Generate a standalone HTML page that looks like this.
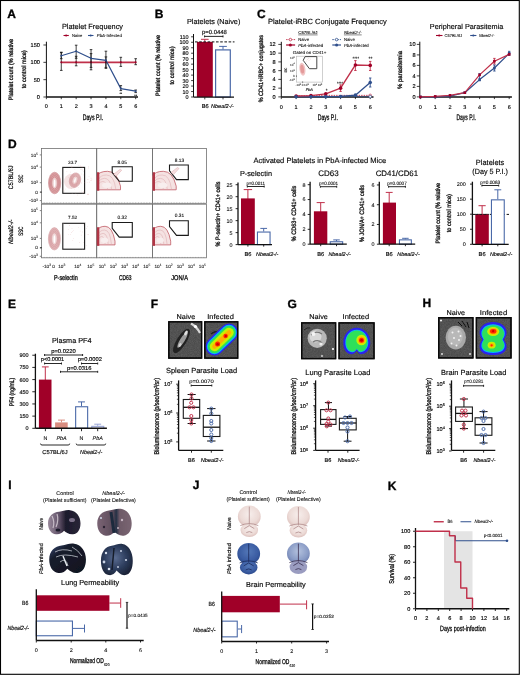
<!DOCTYPE html>
<html><head><meta charset="utf-8"><style>
html,body{margin:0;padding:0;background:#fff;}
body{width:520px;height:675px;overflow:hidden;position:relative;}
svg{position:absolute;left:0;top:0;display:block;opacity:0.999;filter:blur(0.35px);}
text{font-family:"Liberation Sans", sans-serif;text-rendering:geometricPrecision;}
</style></head><body>
<svg width="520" height="675" viewBox="0 0 520 675">
<rect x="0" y="0" width="520" height="675" fill="#fff"/>
<text x="7.30" y="17.80" font-size="12" font-weight="bold" stroke="#111" stroke-width="0.35">A</text>
<text x="61.90" y="28.50" font-size="7.4" stroke="#111" stroke-width="0.15" textLength="61.10" lengthAdjust="spacingAndGlyphs">Platelet Frequency</text>
<line x1="63.50" y1="35.50" x2="68.80" y2="35.50" stroke="#a00028" stroke-width="1.1"/>
<circle cx="66.10" cy="35.50" r="1.0" fill="#a00028"/>
<text x="71.90" y="37.00" font-size="4.3" stroke="#111" stroke-width="0.08" textLength="10.50" lengthAdjust="spacingAndGlyphs">Naive</text>
<line x1="88.00" y1="35.50" x2="93.50" y2="35.50" stroke="#2f4f8c" stroke-width="1.1"/>
<circle cx="90.70" cy="35.50" r="1.0" fill="#2f4f8c"/>
<text x="96.80" y="37.00" font-size="4.3" stroke="#111" stroke-width="0.08" textLength="25.10" lengthAdjust="spacingAndGlyphs"><tspan font-style="italic">PbA</tspan>-Infected</text>
<line x1="46.40" y1="41.70" x2="46.40" y2="97.00" stroke="#111" stroke-width="1"/>
<line x1="43.40" y1="44.99" x2="46.40" y2="44.99" stroke="#111" stroke-width="0.8"/>
<text x="39.90" y="47.00" font-size="5.6" text-anchor="end" stroke="#111" stroke-width="0.15">150</text>
<line x1="43.40" y1="62.33" x2="46.40" y2="62.33" stroke="#111" stroke-width="0.8"/>
<text x="39.90" y="64.33" font-size="5.6" text-anchor="end" stroke="#111" stroke-width="0.15">100</text>
<line x1="43.40" y1="79.66" x2="46.40" y2="79.66" stroke="#111" stroke-width="0.8"/>
<text x="39.90" y="81.67" font-size="5.6" text-anchor="end" stroke="#111" stroke-width="0.15">50</text>
<line x1="43.40" y1="97.00" x2="46.40" y2="97.00" stroke="#111" stroke-width="0.8"/>
<text x="39.90" y="99.00" font-size="5.6" text-anchor="end" stroke="#111" stroke-width="0.15">0</text>
<line x1="46.40" y1="97.00" x2="138.00" y2="97.00" stroke="#111" stroke-width="1.5"/>
<line x1="46.40" y1="97.00" x2="46.40" y2="99.20" stroke="#111" stroke-width="0.8"/>
<text x="46.40" y="108.30" font-size="5.5" text-anchor="middle" stroke="#111" stroke-width="0.15">0</text>
<line x1="61.28" y1="97.00" x2="61.28" y2="99.20" stroke="#111" stroke-width="0.8"/>
<text x="61.28" y="108.30" font-size="5.5" text-anchor="middle" stroke="#111" stroke-width="0.15">1</text>
<line x1="76.16" y1="97.00" x2="76.16" y2="99.20" stroke="#111" stroke-width="0.8"/>
<text x="76.16" y="108.30" font-size="5.5" text-anchor="middle" stroke="#111" stroke-width="0.15">2</text>
<line x1="91.04" y1="97.00" x2="91.04" y2="99.20" stroke="#111" stroke-width="0.8"/>
<text x="91.04" y="108.30" font-size="5.5" text-anchor="middle" stroke="#111" stroke-width="0.15">3</text>
<line x1="105.92" y1="97.00" x2="105.92" y2="99.20" stroke="#111" stroke-width="0.8"/>
<text x="105.92" y="108.30" font-size="5.5" text-anchor="middle" stroke="#111" stroke-width="0.15">4</text>
<line x1="120.80" y1="97.00" x2="120.80" y2="99.20" stroke="#111" stroke-width="0.8"/>
<text x="120.80" y="108.30" font-size="5.5" text-anchor="middle" stroke="#111" stroke-width="0.15">5</text>
<line x1="135.68" y1="97.00" x2="135.68" y2="99.20" stroke="#111" stroke-width="0.8"/>
<text x="135.68" y="108.30" font-size="5.5" text-anchor="middle" stroke="#111" stroke-width="0.15">6</text>
<text x="92.90" y="119.60" font-size="8.0" text-anchor="middle" stroke="#111" stroke-width="0.3" textLength="20.40" lengthAdjust="spacingAndGlyphs">Days P.I.</text>
<text x="0" y="0" font-size="6.3" text-anchor="middle" stroke="#111" stroke-width="0.3" textLength="61.30" lengthAdjust="spacingAndGlyphs" transform="translate(13.16 69.60) rotate(-90)">Platelet count (% relative</text>
<text x="0" y="0" font-size="6.3" text-anchor="middle" stroke="#111" stroke-width="0.3" textLength="38.00" lengthAdjust="spacingAndGlyphs" transform="translate(25.56 69.30) rotate(-90)">to control mice)</text>
<line x1="61.28" y1="62.33" x2="135.68" y2="62.33" stroke="#c0304a" stroke-width="1.6"/>
<line x1="61.28" y1="52.20" x2="61.28" y2="70.40" stroke="#111" stroke-width="0.8"/>
<line x1="59.98" y1="52.20" x2="62.58" y2="52.20" stroke="#111" stroke-width="0.8"/>
<line x1="59.98" y1="70.40" x2="62.58" y2="70.40" stroke="#111" stroke-width="0.8"/>
<circle cx="61.28" cy="62.33" r="1.0" fill="#a00028"/>
<line x1="76.16" y1="56.30" x2="76.16" y2="65.80" stroke="#111" stroke-width="0.8"/>
<line x1="74.86" y1="56.30" x2="77.46" y2="56.30" stroke="#111" stroke-width="0.8"/>
<line x1="74.86" y1="65.80" x2="77.46" y2="65.80" stroke="#111" stroke-width="0.8"/>
<circle cx="76.16" cy="62.33" r="1.0" fill="#a00028"/>
<line x1="91.04" y1="53.60" x2="91.04" y2="69.80" stroke="#111" stroke-width="0.8"/>
<line x1="89.74" y1="53.60" x2="92.34" y2="53.60" stroke="#111" stroke-width="0.8"/>
<line x1="89.74" y1="69.80" x2="92.34" y2="69.80" stroke="#111" stroke-width="0.8"/>
<circle cx="91.04" cy="62.33" r="1.0" fill="#a00028"/>
<line x1="105.92" y1="56.90" x2="105.92" y2="67.40" stroke="#111" stroke-width="0.8"/>
<line x1="104.62" y1="56.90" x2="107.22" y2="56.90" stroke="#111" stroke-width="0.8"/>
<line x1="104.62" y1="67.40" x2="107.22" y2="67.40" stroke="#111" stroke-width="0.8"/>
<circle cx="105.92" cy="62.33" r="1.0" fill="#a00028"/>
<line x1="120.80" y1="57.30" x2="120.80" y2="66.40" stroke="#111" stroke-width="0.8"/>
<line x1="119.50" y1="57.30" x2="122.10" y2="57.30" stroke="#111" stroke-width="0.8"/>
<line x1="119.50" y1="66.40" x2="122.10" y2="66.40" stroke="#111" stroke-width="0.8"/>
<circle cx="120.80" cy="62.33" r="1.0" fill="#a00028"/>
<line x1="135.68" y1="58.70" x2="135.68" y2="64.70" stroke="#111" stroke-width="0.8"/>
<line x1="134.38" y1="58.70" x2="136.98" y2="58.70" stroke="#111" stroke-width="0.8"/>
<line x1="134.38" y1="64.70" x2="136.98" y2="64.70" stroke="#111" stroke-width="0.8"/>
<circle cx="135.68" cy="62.33" r="1.0" fill="#a00028"/>
<polyline points="61.28,55.70 76.16,51.20 91.04,58.30 105.92,60.30 120.80,88.60 135.68,91.20" stroke="#2f4f8c" stroke-width="1.2" fill="none" stroke-linejoin="round"/>
<line x1="61.28" y1="52.60" x2="61.28" y2="58.70" stroke="#111" stroke-width="0.8"/>
<line x1="59.98" y1="52.60" x2="62.58" y2="52.60" stroke="#111" stroke-width="0.8"/>
<line x1="59.98" y1="58.70" x2="62.58" y2="58.70" stroke="#111" stroke-width="0.8"/>
<line x1="76.16" y1="45.20" x2="76.16" y2="58.30" stroke="#111" stroke-width="0.8"/>
<line x1="74.86" y1="45.20" x2="77.46" y2="45.20" stroke="#111" stroke-width="0.8"/>
<line x1="74.86" y1="58.30" x2="77.46" y2="58.30" stroke="#111" stroke-width="0.8"/>
<line x1="91.04" y1="49.60" x2="91.04" y2="67.40" stroke="#111" stroke-width="0.8"/>
<line x1="89.74" y1="49.60" x2="92.34" y2="49.60" stroke="#111" stroke-width="0.8"/>
<line x1="89.74" y1="67.40" x2="92.34" y2="67.40" stroke="#111" stroke-width="0.8"/>
<line x1="105.92" y1="51.20" x2="105.92" y2="68.40" stroke="#111" stroke-width="0.8"/>
<line x1="104.62" y1="51.20" x2="107.22" y2="51.20" stroke="#111" stroke-width="0.8"/>
<line x1="104.62" y1="68.40" x2="107.22" y2="68.40" stroke="#111" stroke-width="0.8"/>
<line x1="120.80" y1="85.60" x2="120.80" y2="90.60" stroke="#111" stroke-width="0.8"/>
<line x1="119.50" y1="85.60" x2="122.10" y2="85.60" stroke="#111" stroke-width="0.8"/>
<line x1="119.50" y1="90.60" x2="122.10" y2="90.60" stroke="#111" stroke-width="0.8"/>
<line x1="135.68" y1="90.00" x2="135.68" y2="92.60" stroke="#111" stroke-width="0.8"/>
<line x1="134.38" y1="90.00" x2="136.98" y2="90.00" stroke="#111" stroke-width="0.8"/>
<line x1="134.38" y1="92.60" x2="136.98" y2="92.60" stroke="#111" stroke-width="0.8"/>
<circle cx="61.28" cy="55.70" r="1.0" fill="#2f4f8c"/>
<circle cx="76.16" cy="51.20" r="1.0" fill="#2f4f8c"/>
<circle cx="91.04" cy="58.30" r="1.0" fill="#2f4f8c"/>
<circle cx="105.92" cy="60.30" r="1.0" fill="#2f4f8c"/>
<circle cx="120.80" cy="88.60" r="1.0" fill="#2f4f8c"/>
<circle cx="135.68" cy="91.20" r="1.0" fill="#2f4f8c"/>
<text x="120.80" y="95.20" font-size="3.5" text-anchor="middle" stroke="#111" stroke-width="0.08">**</text>
<text x="135.68" y="96.60" font-size="3.5" text-anchor="middle" stroke="#111" stroke-width="0.08">**</text>
<text x="154.70" y="17.80" font-size="12" font-weight="bold" stroke="#111" stroke-width="0.35">B</text>
<text x="187.00" y="24.20" font-size="7.3" stroke="#111" stroke-width="0.15" textLength="53.30" lengthAdjust="spacingAndGlyphs">Platelets (Naive)</text>
<line x1="193.50" y1="34.00" x2="193.50" y2="97.00" stroke="#111" stroke-width="1"/>
<line x1="191.10" y1="97.00" x2="193.50" y2="97.00" stroke="#111" stroke-width="0.8"/>
<text x="188.60" y="98.97" font-size="5.5" text-anchor="end" stroke="#111" stroke-width="0.15">0</text>
<line x1="191.10" y1="91.53" x2="193.50" y2="91.53" stroke="#111" stroke-width="0.8"/>
<text x="188.60" y="93.50" font-size="5.5" text-anchor="end" stroke="#111" stroke-width="0.15">10</text>
<line x1="191.10" y1="86.05" x2="193.50" y2="86.05" stroke="#111" stroke-width="0.8"/>
<text x="188.60" y="88.02" font-size="5.5" text-anchor="end" stroke="#111" stroke-width="0.15">20</text>
<line x1="191.10" y1="80.58" x2="193.50" y2="80.58" stroke="#111" stroke-width="0.8"/>
<text x="188.60" y="82.55" font-size="5.5" text-anchor="end" stroke="#111" stroke-width="0.15">30</text>
<line x1="191.10" y1="75.11" x2="193.50" y2="75.11" stroke="#111" stroke-width="0.8"/>
<text x="188.60" y="77.08" font-size="5.5" text-anchor="end" stroke="#111" stroke-width="0.15">40</text>
<line x1="191.10" y1="69.63" x2="193.50" y2="69.63" stroke="#111" stroke-width="0.8"/>
<text x="188.60" y="71.60" font-size="5.5" text-anchor="end" stroke="#111" stroke-width="0.15">50</text>
<line x1="191.10" y1="64.16" x2="193.50" y2="64.16" stroke="#111" stroke-width="0.8"/>
<text x="188.60" y="66.13" font-size="5.5" text-anchor="end" stroke="#111" stroke-width="0.15">60</text>
<line x1="191.10" y1="58.69" x2="193.50" y2="58.69" stroke="#111" stroke-width="0.8"/>
<text x="188.60" y="60.66" font-size="5.5" text-anchor="end" stroke="#111" stroke-width="0.15">70</text>
<line x1="191.10" y1="53.22" x2="193.50" y2="53.22" stroke="#111" stroke-width="0.8"/>
<text x="188.60" y="55.19" font-size="5.5" text-anchor="end" stroke="#111" stroke-width="0.15">80</text>
<line x1="191.10" y1="47.74" x2="193.50" y2="47.74" stroke="#111" stroke-width="0.8"/>
<text x="188.60" y="49.71" font-size="5.5" text-anchor="end" stroke="#111" stroke-width="0.15">90</text>
<line x1="191.10" y1="42.27" x2="193.50" y2="42.27" stroke="#111" stroke-width="0.8"/>
<text x="188.60" y="44.24" font-size="5.5" text-anchor="end" stroke="#111" stroke-width="0.15">100</text>
<line x1="191.10" y1="36.80" x2="193.50" y2="36.80" stroke="#111" stroke-width="0.8"/>
<text x="188.60" y="38.77" font-size="5.5" text-anchor="end" stroke="#111" stroke-width="0.15">110</text>
<rect x="196.90" y="41.90" width="15.90" height="55.10" fill="#a00028"/>
<line x1="204.80" y1="39.30" x2="204.80" y2="41.90" stroke="#c0304a" stroke-width="1.0"/>
<line x1="200.95" y1="39.30" x2="208.65" y2="39.30" stroke="#c0304a" stroke-width="1.0"/>
<rect x="215.60" y="49.90" width="14.70" height="47.10" fill="#fff" stroke="#4a69a8" stroke-width="1.2"/>
<line x1="223.00" y1="46.40" x2="223.00" y2="49.50" stroke="#4a69a8" stroke-width="1.0"/>
<line x1="219.15" y1="46.40" x2="226.85" y2="46.40" stroke="#4a69a8" stroke-width="1.0"/>
<line x1="195.00" y1="41.90" x2="234.50" y2="41.90" stroke="#111" stroke-width="1.0" stroke-dasharray="2.6 1.6"/>
<line x1="193.50" y1="97.20" x2="234.00" y2="97.20" stroke="#111" stroke-width="1.2"/>
<line x1="204.80" y1="97.20" x2="204.80" y2="99.40" stroke="#111" stroke-width="0.8"/>
<line x1="223.00" y1="97.20" x2="223.00" y2="99.40" stroke="#111" stroke-width="0.8"/>
<line x1="204.60" y1="36.40" x2="223.00" y2="36.40" stroke="#111" stroke-width="0.9"/>
<line x1="204.60" y1="35.40" x2="204.60" y2="37.40" stroke="#111" stroke-width="0.9"/>
<line x1="223.00" y1="35.40" x2="223.00" y2="37.40" stroke="#111" stroke-width="0.9"/>
<text x="214.40" y="33.60" font-size="5.9" text-anchor="middle" stroke="#111" stroke-width="0.15" textLength="24.80" lengthAdjust="spacingAndGlyphs">p=0.0448</text>
<text x="205.20" y="108.24" font-size="5.7" text-anchor="middle" stroke="#111" stroke-width="0.15" textLength="7.00" lengthAdjust="spacingAndGlyphs">B6</text>
<text x="211.00" y="108.20" font-size="5.6" font-style="italic" stroke="#111" stroke-width="0.15" textLength="22.90" lengthAdjust="spacingAndGlyphs">Nbeal2-/-</text>
<text x="0" y="0" font-size="6.3" text-anchor="middle" stroke="#111" stroke-width="0.3" textLength="61.00" lengthAdjust="spacingAndGlyphs" transform="translate(160.26 65.50) rotate(-90)">Platelet count (% relative</text>
<text x="0" y="0" font-size="6.3" text-anchor="middle" stroke="#111" stroke-width="0.3" textLength="38.00" lengthAdjust="spacingAndGlyphs" transform="translate(173.56 65.50) rotate(-90)">to control mice)</text>
<text x="257.10" y="17.50" font-size="12" font-weight="bold" stroke="#111" stroke-width="0.35">C</text>
<text x="267.90" y="24.20" font-size="7.5" stroke="#111" stroke-width="0.15" textLength="118.80" lengthAdjust="spacingAndGlyphs">Platelet-iRBC Conjugate Frequency</text>
<line x1="281.30" y1="41.80" x2="281.30" y2="96.90" stroke="#111" stroke-width="1"/>
<line x1="278.30" y1="96.90" x2="281.30" y2="96.90" stroke="#111" stroke-width="0.8"/>
<text x="275.70" y="98.90" font-size="5.6" text-anchor="end" stroke="#111" stroke-width="0.15">0</text>
<line x1="278.30" y1="88.15" x2="281.30" y2="88.15" stroke="#111" stroke-width="0.8"/>
<text x="275.70" y="90.15" font-size="5.6" text-anchor="end" stroke="#111" stroke-width="0.15">2</text>
<line x1="278.30" y1="79.40" x2="281.30" y2="79.40" stroke="#111" stroke-width="0.8"/>
<text x="275.70" y="81.40" font-size="5.6" text-anchor="end" stroke="#111" stroke-width="0.15">4</text>
<line x1="278.30" y1="70.65" x2="281.30" y2="70.65" stroke="#111" stroke-width="0.8"/>
<text x="275.70" y="72.65" font-size="5.6" text-anchor="end" stroke="#111" stroke-width="0.15">6</text>
<line x1="278.30" y1="61.90" x2="281.30" y2="61.90" stroke="#111" stroke-width="0.8"/>
<text x="275.70" y="63.90" font-size="5.6" text-anchor="end" stroke="#111" stroke-width="0.15">8</text>
<line x1="278.30" y1="53.15" x2="281.30" y2="53.15" stroke="#111" stroke-width="0.8"/>
<text x="275.70" y="55.15" font-size="5.6" text-anchor="end" stroke="#111" stroke-width="0.15">10</text>
<line x1="278.30" y1="44.40" x2="281.30" y2="44.40" stroke="#111" stroke-width="0.8"/>
<text x="275.70" y="46.40" font-size="5.6" text-anchor="end" stroke="#111" stroke-width="0.15">12</text>
<line x1="281.30" y1="96.90" x2="373.50" y2="96.90" stroke="#111" stroke-width="1.5"/>
<line x1="281.30" y1="96.90" x2="281.30" y2="99.10" stroke="#111" stroke-width="0.8"/>
<text x="281.30" y="108.50" font-size="5.5" text-anchor="middle" stroke="#111" stroke-width="0.15">0</text>
<line x1="296.12" y1="96.90" x2="296.12" y2="99.10" stroke="#111" stroke-width="0.8"/>
<text x="296.12" y="108.50" font-size="5.5" text-anchor="middle" stroke="#111" stroke-width="0.15">1</text>
<line x1="310.94" y1="96.90" x2="310.94" y2="99.10" stroke="#111" stroke-width="0.8"/>
<text x="310.94" y="108.50" font-size="5.5" text-anchor="middle" stroke="#111" stroke-width="0.15">2</text>
<line x1="325.76" y1="96.90" x2="325.76" y2="99.10" stroke="#111" stroke-width="0.8"/>
<text x="325.76" y="108.50" font-size="5.5" text-anchor="middle" stroke="#111" stroke-width="0.15">3</text>
<line x1="340.58" y1="96.90" x2="340.58" y2="99.10" stroke="#111" stroke-width="0.8"/>
<text x="340.58" y="108.50" font-size="5.5" text-anchor="middle" stroke="#111" stroke-width="0.15">4</text>
<line x1="355.40" y1="96.90" x2="355.40" y2="99.10" stroke="#111" stroke-width="0.8"/>
<text x="355.40" y="108.50" font-size="5.5" text-anchor="middle" stroke="#111" stroke-width="0.15">5</text>
<line x1="370.22" y1="96.90" x2="370.22" y2="99.10" stroke="#111" stroke-width="0.8"/>
<text x="370.22" y="108.50" font-size="5.5" text-anchor="middle" stroke="#111" stroke-width="0.15">6</text>
<text x="327.80" y="119.60" font-size="8.0" text-anchor="middle" stroke="#111" stroke-width="0.3" textLength="20.20" lengthAdjust="spacingAndGlyphs">Days P.I.</text>
<text x="0" y="0" font-size="6.3" text-anchor="middle" stroke="#111" stroke-width="0.3" textLength="67.30" lengthAdjust="spacingAndGlyphs" transform="translate(263.46 68.60) rotate(-90)">% CD41+iRBC+ conjugates</text>
<text x="307.90" y="34.24" font-size="4.3" text-anchor="middle" stroke="#111" stroke-width="0.08" textLength="19.40" lengthAdjust="spacingAndGlyphs">C57BL/6J</text>
<line x1="298.20" y1="34.90" x2="317.60" y2="34.90" stroke="#111" stroke-width="0.5"/>
<text x="352.80" y="34.24" font-size="4.3" text-anchor="middle" font-style="italic" stroke="#111" stroke-width="0.08" textLength="17.80" lengthAdjust="spacingAndGlyphs">Nbeal2-/-</text>
<line x1="343.90" y1="34.90" x2="361.70" y2="34.90" stroke="#111" stroke-width="0.5"/>
<line x1="286.10" y1="39.60" x2="295.10" y2="39.60" stroke="#c0304a" stroke-width="0.9" stroke-dasharray="1.5 1"/>
<circle cx="290.40" cy="39.60" r="1.3" fill="#fff" stroke="#c0304a" stroke-width="0.8"/>
<text x="298.20" y="41.18" font-size="4.4" stroke="#111" stroke-width="0.08" textLength="10.80" lengthAdjust="spacingAndGlyphs">Naive</text>
<line x1="286.10" y1="45.00" x2="295.10" y2="45.00" stroke="#a00028" stroke-width="1.2"/>
<circle cx="290.40" cy="45.00" r="1.5" fill="#a00028"/>
<text x="298.20" y="46.58" font-size="4.4" stroke="#111" stroke-width="0.08" textLength="25.00" lengthAdjust="spacingAndGlyphs"><tspan font-style="italic">PbA</tspan>-infected</text>
<line x1="332.30" y1="39.60" x2="341.00" y2="39.60" stroke="#2f4f8c" stroke-width="0.9" stroke-dasharray="1.5 1"/>
<circle cx="336.60" cy="39.60" r="1.3" fill="#fff" stroke="#2f4f8c" stroke-width="0.8"/>
<text x="343.90" y="41.18" font-size="4.4" stroke="#111" stroke-width="0.08" textLength="10.90" lengthAdjust="spacingAndGlyphs">Naive</text>
<line x1="332.30" y1="45.00" x2="341.00" y2="45.00" stroke="#2f4f8c" stroke-width="1.2"/>
<circle cx="336.60" cy="45.00" r="1.5" fill="#2f4f8c"/>
<text x="343.90" y="46.58" font-size="4.4" stroke="#111" stroke-width="0.08" textLength="24.80" lengthAdjust="spacingAndGlyphs"><tspan font-style="italic">PbA</tspan>-infected</text>
<polyline points="296.12,96.03 310.94,95.59 325.76,95.37 340.58,95.37 355.40,95.37 370.22,95.37" stroke="#c0304a" stroke-width="0.9" fill="none" stroke-linejoin="round" stroke-dasharray="1.5 1"/>
<polyline points="296.12,96.68 310.94,96.68 325.76,96.68 340.58,96.68 355.40,96.68 370.22,96.68" stroke="#2f4f8c" stroke-width="0.9" fill="none" stroke-linejoin="round" stroke-dasharray="1.5 1"/>
<polyline points="296.12,96.68 310.94,96.68 325.76,96.68 340.58,96.46 355.40,95.15 370.22,82.46" stroke="#2f4f8c" stroke-width="1.3" fill="none" stroke-linejoin="round"/>
<polyline points="296.12,96.03 310.94,95.59 325.76,93.84 340.58,88.15 355.40,64.96 370.22,65.40" stroke="#c0304a" stroke-width="1.4" fill="none" stroke-linejoin="round"/>
<line x1="340.58" y1="84.85" x2="340.58" y2="91.45" stroke="#c0304a" stroke-width="0.9"/>
<line x1="339.38" y1="84.85" x2="341.78" y2="84.85" stroke="#c0304a" stroke-width="0.9"/>
<line x1="339.38" y1="91.45" x2="341.78" y2="91.45" stroke="#c0304a" stroke-width="0.9"/>
<line x1="355.40" y1="60.60" x2="355.40" y2="70.50" stroke="#c0304a" stroke-width="0.9"/>
<line x1="354.20" y1="60.60" x2="356.60" y2="60.60" stroke="#c0304a" stroke-width="0.9"/>
<line x1="354.20" y1="70.50" x2="356.60" y2="70.50" stroke="#c0304a" stroke-width="0.9"/>
<line x1="370.22" y1="61.40" x2="370.22" y2="70.50" stroke="#c0304a" stroke-width="0.9"/>
<line x1="369.02" y1="61.40" x2="371.42" y2="61.40" stroke="#c0304a" stroke-width="0.9"/>
<line x1="369.02" y1="70.50" x2="371.42" y2="70.50" stroke="#c0304a" stroke-width="0.9"/>
<line x1="370.22" y1="78.00" x2="370.22" y2="87.00" stroke="#2f4f8c" stroke-width="0.9"/>
<line x1="369.02" y1="78.00" x2="371.42" y2="78.00" stroke="#2f4f8c" stroke-width="0.9"/>
<line x1="369.02" y1="87.00" x2="371.42" y2="87.00" stroke="#2f4f8c" stroke-width="0.9"/>
<circle cx="296.12" cy="96.03" r="1.8" fill="#a00028"/>
<circle cx="310.94" cy="95.59" r="1.8" fill="#a00028"/>
<circle cx="325.76" cy="93.84" r="1.8" fill="#a00028"/>
<circle cx="340.58" cy="88.15" r="1.8" fill="#a00028"/>
<circle cx="355.40" cy="64.96" r="1.8" fill="#a00028"/>
<circle cx="370.22" cy="65.40" r="1.8" fill="#a00028"/>
<circle cx="296.12" cy="96.68" r="1.8" fill="#2f4f8c"/>
<circle cx="310.94" cy="96.68" r="1.8" fill="#2f4f8c"/>
<circle cx="325.76" cy="96.68" r="1.8" fill="#2f4f8c"/>
<circle cx="340.58" cy="96.46" r="1.8" fill="#2f4f8c"/>
<circle cx="355.40" cy="95.15" r="1.8" fill="#2f4f8c"/>
<circle cx="370.22" cy="82.46" r="1.8" fill="#2f4f8c"/>
<circle cx="370.22" cy="95.37" r="1.3" fill="#fff" stroke="#c0304a" stroke-width="0.7"/>
<circle cx="370.22" cy="96.68" r="1.3" fill="#fff" stroke="#2f4f8c" stroke-width="0.7"/>
<text x="326.66" y="91.60" font-size="4.6" text-anchor="middle" stroke="#111" stroke-width="0.08">*</text>
<text x="339.98" y="85.30" font-size="4.6" text-anchor="middle" stroke="#111" stroke-width="0.08" textLength="5.80" lengthAdjust="spacingAndGlyphs">****</text>
<text x="355.80" y="59.90" font-size="4.6" text-anchor="middle" stroke="#111" stroke-width="0.08" textLength="6.40" lengthAdjust="spacingAndGlyphs">****</text>
<text x="370.52" y="60.10" font-size="4.6" text-anchor="middle" stroke="#111" stroke-width="0.08" textLength="4.00" lengthAdjust="spacingAndGlyphs">**</text>
<text x="429.80" y="28.70" font-size="7.3" stroke="#111" stroke-width="0.15" textLength="73.50" lengthAdjust="spacingAndGlyphs">Peripheral Parasitemia</text>
<line x1="436.00" y1="35.50" x2="442.50" y2="35.50" stroke="#a00028" stroke-width="1.1"/>
<circle cx="439.20" cy="35.50" r="1.1" fill="#a00028"/>
<text x="444.60" y="37.00" font-size="4.2" stroke="#111" stroke-width="0.08" textLength="17.50" lengthAdjust="spacingAndGlyphs">C57BL/6J</text>
<line x1="470.20" y1="35.50" x2="476.40" y2="35.50" stroke="#2f4f8c" stroke-width="1.1"/>
<circle cx="473.30" cy="35.50" r="1.1" fill="#2f4f8c"/>
<text x="479.00" y="37.00" font-size="4.2" font-style="italic" stroke="#111" stroke-width="0.08" textLength="15.40" lengthAdjust="spacingAndGlyphs">Nbeal2-/-</text>
<line x1="419.80" y1="41.70" x2="419.80" y2="96.90" stroke="#111" stroke-width="1"/>
<line x1="416.80" y1="96.90" x2="419.80" y2="96.90" stroke="#111" stroke-width="0.8"/>
<text x="415.60" y="98.90" font-size="5.6" text-anchor="end" stroke="#111" stroke-width="0.15">0</text>
<line x1="416.80" y1="86.40" x2="419.80" y2="86.40" stroke="#111" stroke-width="0.8"/>
<text x="415.60" y="88.40" font-size="5.6" text-anchor="end" stroke="#111" stroke-width="0.15">2</text>
<line x1="416.80" y1="75.90" x2="419.80" y2="75.90" stroke="#111" stroke-width="0.8"/>
<text x="415.60" y="77.90" font-size="5.6" text-anchor="end" stroke="#111" stroke-width="0.15">4</text>
<line x1="416.80" y1="65.40" x2="419.80" y2="65.40" stroke="#111" stroke-width="0.8"/>
<text x="415.60" y="67.40" font-size="5.6" text-anchor="end" stroke="#111" stroke-width="0.15">6</text>
<line x1="416.80" y1="54.90" x2="419.80" y2="54.90" stroke="#111" stroke-width="0.8"/>
<text x="415.60" y="56.90" font-size="5.6" text-anchor="end" stroke="#111" stroke-width="0.15">8</text>
<line x1="416.80" y1="44.40" x2="419.80" y2="44.40" stroke="#111" stroke-width="0.8"/>
<text x="415.60" y="46.40" font-size="5.6" text-anchor="end" stroke="#111" stroke-width="0.15">10</text>
<line x1="419.80" y1="96.90" x2="511.90" y2="96.90" stroke="#111" stroke-width="1.5"/>
<line x1="420.40" y1="96.90" x2="420.40" y2="99.10" stroke="#111" stroke-width="0.8"/>
<text x="420.40" y="108.50" font-size="5.5" text-anchor="middle" stroke="#111" stroke-width="0.15">0</text>
<line x1="435.20" y1="96.90" x2="435.20" y2="99.10" stroke="#111" stroke-width="0.8"/>
<text x="435.20" y="108.50" font-size="5.5" text-anchor="middle" stroke="#111" stroke-width="0.15">1</text>
<line x1="450.00" y1="96.90" x2="450.00" y2="99.10" stroke="#111" stroke-width="0.8"/>
<text x="450.00" y="108.50" font-size="5.5" text-anchor="middle" stroke="#111" stroke-width="0.15">2</text>
<line x1="464.80" y1="96.90" x2="464.80" y2="99.10" stroke="#111" stroke-width="0.8"/>
<text x="464.80" y="108.50" font-size="5.5" text-anchor="middle" stroke="#111" stroke-width="0.15">3</text>
<line x1="479.60" y1="96.90" x2="479.60" y2="99.10" stroke="#111" stroke-width="0.8"/>
<text x="479.60" y="108.50" font-size="5.5" text-anchor="middle" stroke="#111" stroke-width="0.15">4</text>
<line x1="494.40" y1="96.90" x2="494.40" y2="99.10" stroke="#111" stroke-width="0.8"/>
<text x="494.40" y="108.50" font-size="5.5" text-anchor="middle" stroke="#111" stroke-width="0.15">5</text>
<line x1="509.20" y1="96.90" x2="509.20" y2="99.10" stroke="#111" stroke-width="0.8"/>
<text x="509.20" y="108.50" font-size="5.5" text-anchor="middle" stroke="#111" stroke-width="0.15">6</text>
<text x="466.20" y="119.60" font-size="8.0" text-anchor="middle" stroke="#111" stroke-width="0.3" textLength="19.60" lengthAdjust="spacingAndGlyphs">Days P.I.</text>
<text x="0" y="0" font-size="6.3" text-anchor="middle" stroke="#111" stroke-width="0.3" textLength="37.90" lengthAdjust="spacingAndGlyphs" transform="translate(402.46 70.00) rotate(-90)">% parasitemia</text>
<polyline points="420.40,96.90 435.20,96.90 450.00,96.11 464.80,92.70 479.60,79.58 494.40,68.03 509.20,53.33" stroke="#2f4f8c" stroke-width="1.2" fill="none" stroke-linejoin="round"/>
<polyline points="420.40,96.90 435.20,96.38 450.00,95.33 464.80,92.70 479.60,74.85 494.40,61.20 509.20,54.38" stroke="#c0304a" stroke-width="1.2" fill="none" stroke-linejoin="round"/>
<line x1="494.40" y1="58.40" x2="494.40" y2="64.00" stroke="#c0304a" stroke-width="0.9"/>
<line x1="493.20" y1="58.40" x2="495.60" y2="58.40" stroke="#c0304a" stroke-width="0.9"/>
<line x1="493.20" y1="64.00" x2="495.60" y2="64.00" stroke="#c0304a" stroke-width="0.9"/>
<line x1="494.40" y1="65.03" x2="494.40" y2="71.03" stroke="#2f4f8c" stroke-width="0.9"/>
<line x1="493.20" y1="65.03" x2="495.60" y2="65.03" stroke="#2f4f8c" stroke-width="0.9"/>
<line x1="493.20" y1="71.03" x2="495.60" y2="71.03" stroke="#2f4f8c" stroke-width="0.9"/>
<line x1="509.20" y1="51.33" x2="509.20" y2="55.33" stroke="#2f4f8c" stroke-width="0.9"/>
<line x1="508.00" y1="51.33" x2="510.40" y2="51.33" stroke="#2f4f8c" stroke-width="0.9"/>
<line x1="508.00" y1="55.33" x2="510.40" y2="55.33" stroke="#2f4f8c" stroke-width="0.9"/>
<line x1="479.60" y1="73.65" x2="479.60" y2="80.78" stroke="#2f4f8c" stroke-width="0.9"/>
<line x1="478.40" y1="73.65" x2="480.80" y2="73.65" stroke="#2f4f8c" stroke-width="0.9"/>
<line x1="478.40" y1="80.78" x2="480.80" y2="80.78" stroke="#2f4f8c" stroke-width="0.9"/>
<rect x="419.10" y="95.60" width="2.60" height="2.60" fill="#2f4f8c"/>
<rect x="433.90" y="95.60" width="2.60" height="2.60" fill="#2f4f8c"/>
<rect x="448.70" y="94.81" width="2.60" height="2.60" fill="#2f4f8c"/>
<rect x="463.50" y="91.40" width="2.60" height="2.60" fill="#2f4f8c"/>
<rect x="478.30" y="78.28" width="2.60" height="2.60" fill="#2f4f8c"/>
<rect x="493.10" y="66.73" width="2.60" height="2.60" fill="#2f4f8c"/>
<rect x="507.90" y="52.03" width="2.60" height="2.60" fill="#2f4f8c"/>
<rect x="419.10" y="95.60" width="2.60" height="2.60" fill="#a00028"/>
<rect x="433.90" y="95.08" width="2.60" height="2.60" fill="#a00028"/>
<rect x="448.70" y="94.03" width="2.60" height="2.60" fill="#a00028"/>
<rect x="463.50" y="91.40" width="2.60" height="2.60" fill="#a00028"/>
<rect x="478.30" y="73.55" width="2.60" height="2.60" fill="#a00028"/>
<rect x="493.10" y="59.90" width="2.60" height="2.60" fill="#a00028"/>
<rect x="507.90" y="53.08" width="2.60" height="2.60" fill="#a00028"/>
<text x="8.00" y="148.00" font-size="12" font-weight="bold" stroke="#111" stroke-width="0.35">D</text>
<defs><filter id="bl3" filterUnits="userSpaceOnUse" x="0" y="0" width="520" height="675"><feGaussianBlur stdDeviation="0.35"/></filter><filter id="bl6" filterUnits="userSpaceOnUse" x="0" y="0" width="520" height="675"><feGaussianBlur stdDeviation="0.6"/></filter></defs>
<rect x="41.40" y="148.50" width="55.30" height="54.80" fill="none" stroke="#707070" stroke-width="0.8"/>
<rect x="96.70" y="148.50" width="55.70" height="54.80" fill="none" stroke="#707070" stroke-width="0.8"/>
<rect x="152.40" y="148.50" width="54.10" height="54.80" fill="none" stroke="#707070" stroke-width="0.8"/>
<rect x="41.40" y="204.20" width="55.30" height="53.60" fill="none" stroke="#707070" stroke-width="0.8"/>
<rect x="96.70" y="204.20" width="55.70" height="53.60" fill="none" stroke="#707070" stroke-width="0.8"/>
<rect x="152.40" y="204.20" width="54.10" height="53.60" fill="none" stroke="#707070" stroke-width="0.8"/>
<line x1="44.16" y1="202.40" x2="44.16" y2="203.30" stroke="#666" stroke-width="0.4"/>
<line x1="46.93" y1="202.40" x2="46.93" y2="203.30" stroke="#666" stroke-width="0.4"/>
<line x1="49.70" y1="202.40" x2="49.70" y2="203.30" stroke="#666" stroke-width="0.4"/>
<line x1="52.46" y1="202.40" x2="52.46" y2="203.30" stroke="#666" stroke-width="0.4"/>
<line x1="55.22" y1="202.40" x2="55.22" y2="203.30" stroke="#666" stroke-width="0.4"/>
<line x1="57.99" y1="202.40" x2="57.99" y2="203.30" stroke="#666" stroke-width="0.4"/>
<line x1="60.75" y1="202.40" x2="60.75" y2="203.30" stroke="#666" stroke-width="0.4"/>
<line x1="63.52" y1="202.40" x2="63.52" y2="203.30" stroke="#666" stroke-width="0.4"/>
<line x1="66.28" y1="202.40" x2="66.28" y2="203.30" stroke="#666" stroke-width="0.4"/>
<line x1="69.05" y1="202.40" x2="69.05" y2="203.30" stroke="#666" stroke-width="0.4"/>
<line x1="71.81" y1="202.40" x2="71.81" y2="203.30" stroke="#666" stroke-width="0.4"/>
<line x1="74.58" y1="202.40" x2="74.58" y2="203.30" stroke="#666" stroke-width="0.4"/>
<line x1="77.34" y1="202.40" x2="77.34" y2="203.30" stroke="#666" stroke-width="0.4"/>
<line x1="80.11" y1="202.40" x2="80.11" y2="203.30" stroke="#666" stroke-width="0.4"/>
<line x1="82.88" y1="202.40" x2="82.88" y2="203.30" stroke="#666" stroke-width="0.4"/>
<line x1="85.64" y1="202.40" x2="85.64" y2="203.30" stroke="#666" stroke-width="0.4"/>
<line x1="88.41" y1="202.40" x2="88.41" y2="203.30" stroke="#666" stroke-width="0.4"/>
<line x1="91.17" y1="202.40" x2="91.17" y2="203.30" stroke="#666" stroke-width="0.4"/>
<line x1="93.94" y1="202.40" x2="93.94" y2="203.30" stroke="#666" stroke-width="0.4"/>
<line x1="99.48" y1="202.40" x2="99.48" y2="203.30" stroke="#666" stroke-width="0.4"/>
<line x1="102.27" y1="202.40" x2="102.27" y2="203.30" stroke="#666" stroke-width="0.4"/>
<line x1="105.06" y1="202.40" x2="105.06" y2="203.30" stroke="#666" stroke-width="0.4"/>
<line x1="107.84" y1="202.40" x2="107.84" y2="203.30" stroke="#666" stroke-width="0.4"/>
<line x1="110.62" y1="202.40" x2="110.62" y2="203.30" stroke="#666" stroke-width="0.4"/>
<line x1="113.41" y1="202.40" x2="113.41" y2="203.30" stroke="#666" stroke-width="0.4"/>
<line x1="116.20" y1="202.40" x2="116.20" y2="203.30" stroke="#666" stroke-width="0.4"/>
<line x1="118.98" y1="202.40" x2="118.98" y2="203.30" stroke="#666" stroke-width="0.4"/>
<line x1="121.77" y1="202.40" x2="121.77" y2="203.30" stroke="#666" stroke-width="0.4"/>
<line x1="124.55" y1="202.40" x2="124.55" y2="203.30" stroke="#666" stroke-width="0.4"/>
<line x1="127.34" y1="202.40" x2="127.34" y2="203.30" stroke="#666" stroke-width="0.4"/>
<line x1="130.12" y1="202.40" x2="130.12" y2="203.30" stroke="#666" stroke-width="0.4"/>
<line x1="132.91" y1="202.40" x2="132.91" y2="203.30" stroke="#666" stroke-width="0.4"/>
<line x1="135.69" y1="202.40" x2="135.69" y2="203.30" stroke="#666" stroke-width="0.4"/>
<line x1="138.47" y1="202.40" x2="138.47" y2="203.30" stroke="#666" stroke-width="0.4"/>
<line x1="141.26" y1="202.40" x2="141.26" y2="203.30" stroke="#666" stroke-width="0.4"/>
<line x1="144.05" y1="202.40" x2="144.05" y2="203.30" stroke="#666" stroke-width="0.4"/>
<line x1="146.83" y1="202.40" x2="146.83" y2="203.30" stroke="#666" stroke-width="0.4"/>
<line x1="149.62" y1="202.40" x2="149.62" y2="203.30" stroke="#666" stroke-width="0.4"/>
<line x1="155.11" y1="202.40" x2="155.11" y2="203.30" stroke="#666" stroke-width="0.4"/>
<line x1="157.81" y1="202.40" x2="157.81" y2="203.30" stroke="#666" stroke-width="0.4"/>
<line x1="160.52" y1="202.40" x2="160.52" y2="203.30" stroke="#666" stroke-width="0.4"/>
<line x1="163.22" y1="202.40" x2="163.22" y2="203.30" stroke="#666" stroke-width="0.4"/>
<line x1="165.93" y1="202.40" x2="165.93" y2="203.30" stroke="#666" stroke-width="0.4"/>
<line x1="168.63" y1="202.40" x2="168.63" y2="203.30" stroke="#666" stroke-width="0.4"/>
<line x1="171.34" y1="202.40" x2="171.34" y2="203.30" stroke="#666" stroke-width="0.4"/>
<line x1="174.04" y1="202.40" x2="174.04" y2="203.30" stroke="#666" stroke-width="0.4"/>
<line x1="176.75" y1="202.40" x2="176.75" y2="203.30" stroke="#666" stroke-width="0.4"/>
<line x1="179.45" y1="202.40" x2="179.45" y2="203.30" stroke="#666" stroke-width="0.4"/>
<line x1="182.16" y1="202.40" x2="182.16" y2="203.30" stroke="#666" stroke-width="0.4"/>
<line x1="184.86" y1="202.40" x2="184.86" y2="203.30" stroke="#666" stroke-width="0.4"/>
<line x1="187.56" y1="202.40" x2="187.56" y2="203.30" stroke="#666" stroke-width="0.4"/>
<line x1="190.27" y1="202.40" x2="190.27" y2="203.30" stroke="#666" stroke-width="0.4"/>
<line x1="192.97" y1="202.40" x2="192.97" y2="203.30" stroke="#666" stroke-width="0.4"/>
<line x1="195.68" y1="202.40" x2="195.68" y2="203.30" stroke="#666" stroke-width="0.4"/>
<line x1="198.38" y1="202.40" x2="198.38" y2="203.30" stroke="#666" stroke-width="0.4"/>
<line x1="201.09" y1="202.40" x2="201.09" y2="203.30" stroke="#666" stroke-width="0.4"/>
<line x1="203.80" y1="202.40" x2="203.80" y2="203.30" stroke="#666" stroke-width="0.4"/>
<line x1="44.16" y1="256.90" x2="44.16" y2="257.80" stroke="#666" stroke-width="0.4"/>
<line x1="46.93" y1="256.90" x2="46.93" y2="257.80" stroke="#666" stroke-width="0.4"/>
<line x1="49.70" y1="256.90" x2="49.70" y2="257.80" stroke="#666" stroke-width="0.4"/>
<line x1="52.46" y1="256.90" x2="52.46" y2="257.80" stroke="#666" stroke-width="0.4"/>
<line x1="55.22" y1="256.90" x2="55.22" y2="257.80" stroke="#666" stroke-width="0.4"/>
<line x1="57.99" y1="256.90" x2="57.99" y2="257.80" stroke="#666" stroke-width="0.4"/>
<line x1="60.75" y1="256.90" x2="60.75" y2="257.80" stroke="#666" stroke-width="0.4"/>
<line x1="63.52" y1="256.90" x2="63.52" y2="257.80" stroke="#666" stroke-width="0.4"/>
<line x1="66.28" y1="256.90" x2="66.28" y2="257.80" stroke="#666" stroke-width="0.4"/>
<line x1="69.05" y1="256.90" x2="69.05" y2="257.80" stroke="#666" stroke-width="0.4"/>
<line x1="71.81" y1="256.90" x2="71.81" y2="257.80" stroke="#666" stroke-width="0.4"/>
<line x1="74.58" y1="256.90" x2="74.58" y2="257.80" stroke="#666" stroke-width="0.4"/>
<line x1="77.34" y1="256.90" x2="77.34" y2="257.80" stroke="#666" stroke-width="0.4"/>
<line x1="80.11" y1="256.90" x2="80.11" y2="257.80" stroke="#666" stroke-width="0.4"/>
<line x1="82.88" y1="256.90" x2="82.88" y2="257.80" stroke="#666" stroke-width="0.4"/>
<line x1="85.64" y1="256.90" x2="85.64" y2="257.80" stroke="#666" stroke-width="0.4"/>
<line x1="88.41" y1="256.90" x2="88.41" y2="257.80" stroke="#666" stroke-width="0.4"/>
<line x1="91.17" y1="256.90" x2="91.17" y2="257.80" stroke="#666" stroke-width="0.4"/>
<line x1="93.94" y1="256.90" x2="93.94" y2="257.80" stroke="#666" stroke-width="0.4"/>
<line x1="99.48" y1="256.90" x2="99.48" y2="257.80" stroke="#666" stroke-width="0.4"/>
<line x1="102.27" y1="256.90" x2="102.27" y2="257.80" stroke="#666" stroke-width="0.4"/>
<line x1="105.06" y1="256.90" x2="105.06" y2="257.80" stroke="#666" stroke-width="0.4"/>
<line x1="107.84" y1="256.90" x2="107.84" y2="257.80" stroke="#666" stroke-width="0.4"/>
<line x1="110.62" y1="256.90" x2="110.62" y2="257.80" stroke="#666" stroke-width="0.4"/>
<line x1="113.41" y1="256.90" x2="113.41" y2="257.80" stroke="#666" stroke-width="0.4"/>
<line x1="116.20" y1="256.90" x2="116.20" y2="257.80" stroke="#666" stroke-width="0.4"/>
<line x1="118.98" y1="256.90" x2="118.98" y2="257.80" stroke="#666" stroke-width="0.4"/>
<line x1="121.77" y1="256.90" x2="121.77" y2="257.80" stroke="#666" stroke-width="0.4"/>
<line x1="124.55" y1="256.90" x2="124.55" y2="257.80" stroke="#666" stroke-width="0.4"/>
<line x1="127.34" y1="256.90" x2="127.34" y2="257.80" stroke="#666" stroke-width="0.4"/>
<line x1="130.12" y1="256.90" x2="130.12" y2="257.80" stroke="#666" stroke-width="0.4"/>
<line x1="132.91" y1="256.90" x2="132.91" y2="257.80" stroke="#666" stroke-width="0.4"/>
<line x1="135.69" y1="256.90" x2="135.69" y2="257.80" stroke="#666" stroke-width="0.4"/>
<line x1="138.47" y1="256.90" x2="138.47" y2="257.80" stroke="#666" stroke-width="0.4"/>
<line x1="141.26" y1="256.90" x2="141.26" y2="257.80" stroke="#666" stroke-width="0.4"/>
<line x1="144.05" y1="256.90" x2="144.05" y2="257.80" stroke="#666" stroke-width="0.4"/>
<line x1="146.83" y1="256.90" x2="146.83" y2="257.80" stroke="#666" stroke-width="0.4"/>
<line x1="149.62" y1="256.90" x2="149.62" y2="257.80" stroke="#666" stroke-width="0.4"/>
<line x1="155.11" y1="256.90" x2="155.11" y2="257.80" stroke="#666" stroke-width="0.4"/>
<line x1="157.81" y1="256.90" x2="157.81" y2="257.80" stroke="#666" stroke-width="0.4"/>
<line x1="160.52" y1="256.90" x2="160.52" y2="257.80" stroke="#666" stroke-width="0.4"/>
<line x1="163.22" y1="256.90" x2="163.22" y2="257.80" stroke="#666" stroke-width="0.4"/>
<line x1="165.93" y1="256.90" x2="165.93" y2="257.80" stroke="#666" stroke-width="0.4"/>
<line x1="168.63" y1="256.90" x2="168.63" y2="257.80" stroke="#666" stroke-width="0.4"/>
<line x1="171.34" y1="256.90" x2="171.34" y2="257.80" stroke="#666" stroke-width="0.4"/>
<line x1="174.04" y1="256.90" x2="174.04" y2="257.80" stroke="#666" stroke-width="0.4"/>
<line x1="176.75" y1="256.90" x2="176.75" y2="257.80" stroke="#666" stroke-width="0.4"/>
<line x1="179.45" y1="256.90" x2="179.45" y2="257.80" stroke="#666" stroke-width="0.4"/>
<line x1="182.16" y1="256.90" x2="182.16" y2="257.80" stroke="#666" stroke-width="0.4"/>
<line x1="184.86" y1="256.90" x2="184.86" y2="257.80" stroke="#666" stroke-width="0.4"/>
<line x1="187.56" y1="256.90" x2="187.56" y2="257.80" stroke="#666" stroke-width="0.4"/>
<line x1="190.27" y1="256.90" x2="190.27" y2="257.80" stroke="#666" stroke-width="0.4"/>
<line x1="192.97" y1="256.90" x2="192.97" y2="257.80" stroke="#666" stroke-width="0.4"/>
<line x1="195.68" y1="256.90" x2="195.68" y2="257.80" stroke="#666" stroke-width="0.4"/>
<line x1="198.38" y1="256.90" x2="198.38" y2="257.80" stroke="#666" stroke-width="0.4"/>
<line x1="201.09" y1="256.90" x2="201.09" y2="257.80" stroke="#666" stroke-width="0.4"/>
<line x1="203.80" y1="256.90" x2="203.80" y2="257.80" stroke="#666" stroke-width="0.4"/>
<line x1="39.80" y1="154.90" x2="41.20" y2="154.90" stroke="#333" stroke-width="0.6"/>
<line x1="39.80" y1="167.10" x2="41.20" y2="167.10" stroke="#333" stroke-width="0.6"/>
<line x1="39.80" y1="182.70" x2="41.20" y2="182.70" stroke="#333" stroke-width="0.6"/>
<line x1="39.80" y1="192.10" x2="41.20" y2="192.10" stroke="#333" stroke-width="0.6"/>
<line x1="39.80" y1="200.60" x2="41.20" y2="200.60" stroke="#333" stroke-width="0.6"/>
<circle cx="41.00" cy="192.10" r="0.7" fill="#111"/>
<line x1="39.80" y1="210.60" x2="41.20" y2="210.60" stroke="#333" stroke-width="0.6"/>
<line x1="39.80" y1="222.80" x2="41.20" y2="222.80" stroke="#333" stroke-width="0.6"/>
<line x1="39.80" y1="238.40" x2="41.20" y2="238.40" stroke="#333" stroke-width="0.6"/>
<line x1="39.80" y1="247.80" x2="41.20" y2="247.80" stroke="#333" stroke-width="0.6"/>
<line x1="39.80" y1="256.30" x2="41.20" y2="256.30" stroke="#333" stroke-width="0.6"/>
<circle cx="41.00" cy="247.80" r="0.7" fill="#111"/>
<text x="37.90" y="156.58" font-size="4.7" text-anchor="end" fill="#222" stroke="#222" stroke-width="0.08">10<tspan font-size="3.3" dy="-1.7">5</tspan></text>
<text x="37.90" y="168.78" font-size="4.7" text-anchor="end" fill="#222" stroke="#222" stroke-width="0.08">10<tspan font-size="3.3" dy="-1.7">4</tspan></text>
<text x="37.90" y="184.38" font-size="4.7" text-anchor="end" fill="#222" stroke="#222" stroke-width="0.08">10<tspan font-size="3.3" dy="-1.7">3</tspan></text>
<text x="37.90" y="193.78" font-size="4.7" text-anchor="end" fill="#222" stroke="#222" stroke-width="0.08">0</text>
<text x="37.90" y="202.28" font-size="4.7" text-anchor="end" fill="#222" stroke="#222" stroke-width="0.08">-10<tspan font-size="3.3" dy="-1.7">3</tspan></text>
<text x="37.90" y="212.08" font-size="4.7" text-anchor="end" fill="#222" stroke="#222" stroke-width="0.08">10<tspan font-size="3.3" dy="-1.7">5</tspan></text>
<text x="37.90" y="225.18" font-size="4.7" text-anchor="end" fill="#222" stroke="#222" stroke-width="0.08">10<tspan font-size="3.3" dy="-1.7">4</tspan></text>
<text x="37.90" y="239.88" font-size="4.7" text-anchor="end" fill="#222" stroke="#222" stroke-width="0.08">10<tspan font-size="3.3" dy="-1.7">3</tspan></text>
<text x="37.90" y="249.28" font-size="4.7" text-anchor="end" fill="#222" stroke="#222" stroke-width="0.08">0</text>
<text x="37.90" y="258.08" font-size="4.7" text-anchor="end" fill="#222" stroke="#222" stroke-width="0.08">-10<tspan font-size="3.3" dy="-1.7">3</tspan></text>
<text x="0" y="0" font-size="6.5" text-anchor="middle" stroke="#111" stroke-width="0.2" textLength="23.70" lengthAdjust="spacingAndGlyphs" transform="translate(13.33 177.30) rotate(-90)">C57BL/6J</text>
<text x="0" y="0" font-size="6.5" text-anchor="middle" stroke="#111" stroke-width="0.2" textLength="8.20" lengthAdjust="spacingAndGlyphs" transform="translate(23.03 178.60) rotate(-90)">SSC</text>
<text x="0" y="0" font-size="6.5" text-anchor="middle" stroke="#111" stroke-width="0.2" font-style="italic" textLength="24.50" lengthAdjust="spacingAndGlyphs" transform="translate(13.33 231.70) rotate(-90)">Nbeal2-/-</text>
<text x="0" y="0" font-size="6.5" text-anchor="middle" stroke="#111" stroke-width="0.2" textLength="9.00" lengthAdjust="spacingAndGlyphs" transform="translate(23.03 231.20) rotate(-90)">SSC</text>
<text x="46.70" y="268.08" font-size="4.7" text-anchor="middle" fill="#222" stroke="#222" stroke-width="0.08">-10<tspan font-size="3.3" dy="-1.7">3</tspan></text>
<text x="53.60" y="268.08" font-size="4.7" text-anchor="middle" fill="#222" stroke="#222" stroke-width="0.08">0</text>
<text x="61.80" y="268.08" font-size="4.7" text-anchor="middle" fill="#222" stroke="#222" stroke-width="0.08">10<tspan font-size="3.3" dy="-1.7">3</tspan></text>
<text x="77.80" y="268.08" font-size="4.7" text-anchor="middle" fill="#222" stroke="#222" stroke-width="0.08">10<tspan font-size="3.3" dy="-1.7">4</tspan></text>
<text x="90.80" y="268.08" font-size="4.7" text-anchor="middle" fill="#222" stroke="#222" stroke-width="0.08">10<tspan font-size="3.3" dy="-1.7">5</tspan></text>
<text x="102.30" y="268.08" font-size="4.7" text-anchor="middle" fill="#222" stroke="#222" stroke-width="0.08">10<tspan font-size="3.3" dy="-1.7">1</tspan></text>
<text x="113.40" y="268.08" font-size="4.7" text-anchor="middle" fill="#222" stroke="#222" stroke-width="0.08">10<tspan font-size="3.3" dy="-1.7">2</tspan></text>
<text x="124.50" y="268.08" font-size="4.7" text-anchor="middle" fill="#222" stroke="#222" stroke-width="0.08">10<tspan font-size="3.3" dy="-1.7">3</tspan></text>
<text x="135.60" y="268.08" font-size="4.7" text-anchor="middle" fill="#222" stroke="#222" stroke-width="0.08">10<tspan font-size="3.3" dy="-1.7">4</tspan></text>
<text x="146.70" y="268.08" font-size="4.7" text-anchor="middle" fill="#222" stroke="#222" stroke-width="0.08">10<tspan font-size="3.3" dy="-1.7">5</tspan></text>
<text x="158.00" y="268.08" font-size="4.7" text-anchor="middle" fill="#222" stroke="#222" stroke-width="0.08">10<tspan font-size="3.3" dy="-1.7">1</tspan></text>
<text x="169.10" y="268.08" font-size="4.7" text-anchor="middle" fill="#222" stroke="#222" stroke-width="0.08">10<tspan font-size="3.3" dy="-1.7">2</tspan></text>
<text x="180.20" y="268.08" font-size="4.7" text-anchor="middle" fill="#222" stroke="#222" stroke-width="0.08">10<tspan font-size="3.3" dy="-1.7">3</tspan></text>
<text x="191.30" y="268.08" font-size="4.7" text-anchor="middle" fill="#222" stroke="#222" stroke-width="0.08">10<tspan font-size="3.3" dy="-1.7">4</tspan></text>
<text x="202.40" y="268.08" font-size="4.7" text-anchor="middle" fill="#222" stroke="#222" stroke-width="0.08">10<tspan font-size="3.3" dy="-1.7">5</tspan></text>
<text x="65.90" y="279.80" font-size="7.0" text-anchor="middle" stroke="#111" stroke-width="0.3" textLength="23.90" lengthAdjust="spacingAndGlyphs">P-selectin</text>
<text x="125.20" y="279.60" font-size="7.0" text-anchor="middle" stroke="#111" stroke-width="0.3" textLength="12.60" lengthAdjust="spacingAndGlyphs">CD63</text>
<text x="179.60" y="279.60" font-size="7.0" text-anchor="middle" stroke="#111" stroke-width="0.3" textLength="16.60" lengthAdjust="spacingAndGlyphs">JON/A</text>
<g filter="url(#bl3)" opacity="1.0"><g transform="translate(54.60 183.00) rotate(0)">
<ellipse cx="0" cy="0" rx="6.10" ry="10.80" fill="#dda4a6" stroke="#c98a8e" stroke-width="0.6"/>
<ellipse cx="0" cy="0" rx="5.18" ry="9.18" fill="none" stroke="#c47c82" stroke-width="0.5"/>
<ellipse cx="0" cy="0" rx="4.27" ry="7.56" fill="none" stroke="#c47c82" stroke-width="0.5"/>
<ellipse cx="0" cy="0" rx="3.35" ry="5.94" fill="none" stroke="#c47c82" stroke-width="0.5"/>
<ellipse cx="0" cy="0" rx="2.32" ry="5.40" fill="#ecd0d0"/>
<ellipse cx="0" cy="0.3" rx="0.91" ry="3.78" fill="#fff"/>
</g></g>
<ellipse cx="71" cy="181.5" rx="7" ry="7.5" fill="#f5e4e4" filter="url(#bl6)"/>
<g filter="url(#bl3)" opacity="0.75"><g transform="translate(75.00 180.20) rotate(15)">
<ellipse cx="0" cy="0" rx="5.60" ry="7.40" fill="#dda4a6" stroke="#c98a8e" stroke-width="0.6"/>
<ellipse cx="0" cy="0" rx="4.76" ry="6.29" fill="none" stroke="#c47c82" stroke-width="0.5"/>
<ellipse cx="0" cy="0" rx="3.92" ry="5.18" fill="none" stroke="#c47c82" stroke-width="0.5"/>
<ellipse cx="0" cy="0" rx="3.08" ry="4.07" fill="none" stroke="#c47c82" stroke-width="0.5"/>
<ellipse cx="0" cy="0" rx="2.13" ry="3.70" fill="#ecd0d0"/>
<ellipse cx="0" cy="0.3" rx="0.84" ry="2.59" fill="#fff"/>
</g></g>
<g filter="url(#bl3)" opacity="0.8"><g transform="translate(54.40 238.80) rotate(0)">
<ellipse cx="0" cy="0" rx="6.00" ry="11.20" fill="#dda4a6" stroke="#c98a8e" stroke-width="0.6"/>
<ellipse cx="0" cy="0" rx="5.10" ry="9.52" fill="none" stroke="#c47c82" stroke-width="0.5"/>
<ellipse cx="0" cy="0" rx="4.20" ry="7.84" fill="none" stroke="#c47c82" stroke-width="0.5"/>
<ellipse cx="0" cy="0" rx="3.30" ry="6.16" fill="none" stroke="#c47c82" stroke-width="0.5"/>
<ellipse cx="0" cy="0" rx="2.28" ry="5.60" fill="#ecd0d0"/>
<ellipse cx="0" cy="0.3" rx="0.90" ry="3.92" fill="#fff"/>
</g></g>
<rect x="62.80" y="167.40" width="21.80" height="25.90" fill="none" stroke="#1a1a1a" stroke-width="1.1"/>
<rect x="62.80" y="223.30" width="21.80" height="25.90" fill="none" stroke="#1a1a1a" stroke-width="1.1"/>
<text x="72.60" y="163.68" font-size="4.7" text-anchor="middle" stroke="#111" stroke-width="0.08">33.7</text>
<text x="72.60" y="218.68" font-size="4.7" text-anchor="middle" stroke="#111" stroke-width="0.08">7.52</text>
<circle cx="69.9" cy="181.3" r="0.3" fill="#e3b0b0"/>
<circle cx="73.7" cy="183.1" r="0.3" fill="#e3b0b0"/>
<circle cx="81.1" cy="167.0" r="0.3" fill="#e3b0b0"/>
<circle cx="63.4" cy="190.1" r="0.3" fill="#e3b0b0"/>
<circle cx="70.5" cy="172.0" r="0.3" fill="#e3b0b0"/>
<circle cx="91.9" cy="179.1" r="0.3" fill="#e3b0b0"/>
<circle cx="87.3" cy="179.3" r="0.3" fill="#e3b0b0"/>
<circle cx="81.5" cy="169.5" r="0.3" fill="#e3b0b0"/>
<circle cx="81.4" cy="191.0" r="0.3" fill="#e3b0b0"/>
<circle cx="78.2" cy="187.2" r="0.3" fill="#e3b0b0"/>
<circle cx="82.5" cy="166.9" r="0.3" fill="#e3b0b0"/>
<circle cx="85.0" cy="182.7" r="0.3" fill="#e3b0b0"/>
<circle cx="71.7" cy="165.9" r="0.3" fill="#e3b0b0"/>
<circle cx="88.1" cy="179.2" r="0.3" fill="#e3b0b0"/>
<circle cx="83.8" cy="191.4" r="0.3" fill="#e3b0b0"/>
<circle cx="83.7" cy="192.6" r="0.3" fill="#e3b0b0"/>
<circle cx="74.5" cy="189.0" r="0.3" fill="#e3b0b0"/>
<circle cx="75.9" cy="193.1" r="0.3" fill="#e3b0b0"/>
<circle cx="88.5" cy="167.9" r="0.3" fill="#e3b0b0"/>
<circle cx="66.9" cy="171.5" r="0.3" fill="#e3b0b0"/>
<circle cx="91.0" cy="178.1" r="0.3" fill="#e3b0b0"/>
<circle cx="81.2" cy="174.0" r="0.3" fill="#e3b0b0"/>
<circle cx="77.7" cy="176.6" r="0.3" fill="#e3b0b0"/>
<circle cx="73.2" cy="182.6" r="0.3" fill="#e3b0b0"/>
<circle cx="79.9" cy="192.1" r="0.3" fill="#e3b0b0"/>
<circle cx="82.8" cy="192.9" r="0.3" fill="#e3b0b0"/>
<circle cx="87.8" cy="194.7" r="0.3" fill="#e3b0b0"/>
<circle cx="82.5" cy="169.9" r="0.3" fill="#e3b0b0"/>
<circle cx="88.0" cy="193.9" r="0.3" fill="#e3b0b0"/>
<circle cx="89.2" cy="182.1" r="0.3" fill="#e3b0b0"/>
<circle cx="83.7" cy="171.3" r="0.3" fill="#e3b0b0"/>
<circle cx="87.1" cy="182.2" r="0.3" fill="#e3b0b0"/>
<circle cx="71.3" cy="166.9" r="0.3" fill="#e3b0b0"/>
<circle cx="87.8" cy="194.7" r="0.3" fill="#e3b0b0"/>
<circle cx="65.6" cy="189.0" r="0.3" fill="#e3b0b0"/>
<circle cx="74.9" cy="169.5" r="0.3" fill="#e3b0b0"/>
<circle cx="71.5" cy="188.1" r="0.3" fill="#e3b0b0"/>
<circle cx="88.3" cy="166.3" r="0.3" fill="#e3b0b0"/>
<circle cx="80.8" cy="166.3" r="0.3" fill="#e3b0b0"/>
<circle cx="83.8" cy="174.9" r="0.3" fill="#e3b0b0"/>
<circle cx="88.5" cy="194.4" r="0.3" fill="#e3b0b0"/>
<circle cx="77.7" cy="195.0" r="0.3" fill="#e3b0b0"/>
<circle cx="72.0" cy="167.3" r="0.3" fill="#e3b0b0"/>
<circle cx="80.4" cy="165.9" r="0.3" fill="#e3b0b0"/>
<circle cx="68.7" cy="177.2" r="0.3" fill="#e3b0b0"/>
<circle cx="80.7" cy="169.7" r="0.3" fill="#e3b0b0"/>
<circle cx="64.2" cy="191.0" r="0.3" fill="#e3b0b0"/>
<circle cx="72.1" cy="193.8" r="0.3" fill="#e3b0b0"/>
<circle cx="89.0" cy="176.3" r="0.3" fill="#e3b0b0"/>
<circle cx="76.4" cy="180.6" r="0.3" fill="#e3b0b0"/>
<circle cx="81.7" cy="182.9" r="0.3" fill="#e3b0b0"/>
<circle cx="79.2" cy="183.6" r="0.3" fill="#e3b0b0"/>
<circle cx="90.3" cy="180.2" r="0.3" fill="#e3b0b0"/>
<circle cx="75.5" cy="186.6" r="0.3" fill="#e3b0b0"/>
<circle cx="69.9" cy="174.0" r="0.3" fill="#e3b0b0"/>
<circle cx="91.4" cy="180.6" r="0.3" fill="#e3b0b0"/>
<circle cx="78.9" cy="165.3" r="0.3" fill="#e3b0b0"/>
<circle cx="75.0" cy="182.4" r="0.3" fill="#e3b0b0"/>
<circle cx="63.6" cy="183.5" r="0.3" fill="#e3b0b0"/>
<circle cx="81.3" cy="166.8" r="0.3" fill="#e3b0b0"/>
<circle cx="81.2" cy="235.1" r="0.3" fill="#e3b0b0"/>
<circle cx="82.7" cy="231.9" r="0.3" fill="#e3b0b0"/>
<circle cx="83.5" cy="242.7" r="0.3" fill="#e3b0b0"/>
<circle cx="63.6" cy="223.7" r="0.3" fill="#e3b0b0"/>
<circle cx="82.6" cy="249.0" r="0.3" fill="#e3b0b0"/>
<circle cx="70.3" cy="234.8" r="0.3" fill="#e3b0b0"/>
<circle cx="80.2" cy="231.0" r="0.3" fill="#e3b0b0"/>
<circle cx="73.6" cy="230.8" r="0.3" fill="#e3b0b0"/>
<circle cx="73.7" cy="238.7" r="0.3" fill="#e3b0b0"/>
<circle cx="71.7" cy="232.6" r="0.3" fill="#e3b0b0"/>
<circle cx="85.4" cy="222.8" r="0.3" fill="#e3b0b0"/>
<circle cx="79.5" cy="242.6" r="0.3" fill="#e3b0b0"/>
<circle cx="72.0" cy="228.2" r="0.3" fill="#e3b0b0"/>
<circle cx="86.3" cy="228.7" r="0.3" fill="#e3b0b0"/>
<circle cx="68.4" cy="234.2" r="0.3" fill="#e3b0b0"/>
<circle cx="83.2" cy="224.9" r="0.3" fill="#e3b0b0"/>
<circle cx="72.3" cy="231.3" r="0.3" fill="#e3b0b0"/>
<circle cx="87.2" cy="234.3" r="0.3" fill="#e3b0b0"/>
<circle cx="87.8" cy="226.7" r="0.3" fill="#e3b0b0"/>
<circle cx="72.8" cy="240.2" r="0.3" fill="#e3b0b0"/>
<circle cx="88.7" cy="234.6" r="0.3" fill="#e3b0b0"/>
<circle cx="69.5" cy="225.4" r="0.3" fill="#e3b0b0"/>
<circle cx="78.4" cy="227.3" r="0.3" fill="#e3b0b0"/>
<circle cx="86.4" cy="245.5" r="0.3" fill="#e3b0b0"/>
<circle cx="68.3" cy="229.8" r="0.3" fill="#e3b0b0"/>
<g filter="url(#bl6)">
<path d="M97.00,189.80 L97.00,175.93 Q99.35,171.30 107.58,171.30 Q116.97,171.30 120.50,186.10 L120.50,189.80 Z" fill="#f5e2e2" stroke="#c05a64" stroke-width="0.8"/>
<path d="M98.50,189.20 L98.50,179.44 Q100.53,175.00 106.46,175.00 Q113.98,175.00 115.80,189.20" fill="none" stroke="#dba8ac" stroke-width="0.5"/>
<path d="M98.50,189.20 L98.50,181.77 Q100.53,178.33 104.56,178.33 Q110.38,178.33 111.57,189.20" fill="none" stroke="#dba8ac" stroke-width="0.5"/>
<path d="M98.50,189.20 L98.50,183.97 Q100.53,181.48 102.76,181.48 Q106.99,181.48 107.58,189.20" fill="none" stroke="#dba8ac" stroke-width="0.5"/>
<ellipse cx="106.87" cy="185.18" rx="4.70" ry="2.77" fill="#f8eeee"/>
<rect x="97.00" y="172.23" width="2.3" height="18.50" fill="#b03444"/>
</g>
<g filter="url(#bl6)">
<path d="M97.00,244.90 L97.00,230.95 Q98.80,226.30 105.10,226.30 Q112.30,226.30 115.00,241.18 L115.00,244.90 Z" fill="#f5e2e2" stroke="#c05a64" stroke-width="0.8"/>
<path d="M98.50,244.30 L98.50,234.48 Q99.70,230.02 104.48,230.02 Q110.24,230.02 111.40,244.30" fill="none" stroke="#dba8ac" stroke-width="0.5"/>
<path d="M98.50,244.30 L98.50,236.83 Q99.70,233.37 103.02,233.37 Q107.49,233.37 108.16,244.30" fill="none" stroke="#dba8ac" stroke-width="0.5"/>
<path d="M98.50,244.30 L98.50,239.04 Q99.70,236.53 101.64,236.53 Q104.89,236.53 105.10,244.30" fill="none" stroke="#dba8ac" stroke-width="0.5"/>
<ellipse cx="104.56" cy="240.25" rx="3.60" ry="2.79" fill="#f8eeee"/>
<rect x="97.00" y="227.23" width="2.3" height="18.60" fill="#b03444"/>
</g>
<path d="M112.20,166.70 L132.30,166.70 L132.30,181.30 L119.20,181.30 L112.20,172.50 Z" stroke="#1a1a1a" stroke-width="1.1" fill="none"/>
<path d="M112.20,222.50 L132.30,222.50 L132.30,237.10 L119.20,237.10 L112.20,228.30 Z" stroke="#1a1a1a" stroke-width="1.1" fill="none"/>
<text x="122.20" y="163.82" font-size="4.8" text-anchor="middle" stroke="#111" stroke-width="0.08">8.05</text>
<text x="122.20" y="218.72" font-size="4.8" text-anchor="middle" stroke="#111" stroke-width="0.08">0.32</text>
<g filter="url(#bl6)">
<path d="M152.70,189.80 L152.70,175.93 Q155.05,171.30 163.28,171.30 Q172.68,171.30 176.20,186.10 L176.20,189.80 Z" fill="#f5e2e2" stroke="#c05a64" stroke-width="0.8"/>
<path d="M154.20,189.20 L154.20,179.44 Q156.23,175.00 162.16,175.00 Q169.68,175.00 171.50,189.20" fill="none" stroke="#dba8ac" stroke-width="0.5"/>
<path d="M154.20,189.20 L154.20,181.77 Q156.23,178.33 160.26,178.33 Q166.08,178.33 167.27,189.20" fill="none" stroke="#dba8ac" stroke-width="0.5"/>
<path d="M154.20,189.20 L154.20,183.97 Q156.23,181.48 158.46,181.48 Q162.69,181.48 163.28,189.20" fill="none" stroke="#dba8ac" stroke-width="0.5"/>
<ellipse cx="162.57" cy="185.18" rx="4.70" ry="2.77" fill="#f8eeee"/>
<rect x="152.70" y="172.23" width="2.3" height="18.50" fill="#b03444"/>
</g>
<g filter="url(#bl6)">
<path d="M152.70,244.90 L152.70,230.95 Q154.50,226.30 160.80,226.30 Q168.00,226.30 170.70,241.18 L170.70,244.90 Z" fill="#f5e2e2" stroke="#c05a64" stroke-width="0.8"/>
<path d="M154.20,244.30 L154.20,234.48 Q155.40,230.02 160.18,230.02 Q165.94,230.02 167.10,244.30" fill="none" stroke="#dba8ac" stroke-width="0.5"/>
<path d="M154.20,244.30 L154.20,236.83 Q155.40,233.37 158.72,233.37 Q163.19,233.37 163.86,244.30" fill="none" stroke="#dba8ac" stroke-width="0.5"/>
<path d="M154.20,244.30 L154.20,239.04 Q155.40,236.53 157.35,236.53 Q160.59,236.53 160.80,244.30" fill="none" stroke="#dba8ac" stroke-width="0.5"/>
<ellipse cx="160.26" cy="240.25" rx="3.60" ry="2.79" fill="#f8eeee"/>
<rect x="152.70" y="227.23" width="2.3" height="18.60" fill="#b03444"/>
</g>
<path d="M169.50,165.00 L188.30,165.00 L188.30,179.60 L176.50,179.60 L169.50,170.80 Z" stroke="#1a1a1a" stroke-width="1.1" fill="none"/>
<path d="M169.50,220.80 L188.30,220.80 L188.30,235.40 L176.50,235.40 L169.50,226.60 Z" stroke="#1a1a1a" stroke-width="1.1" fill="none"/>
<text x="179.50" y="162.12" font-size="4.8" text-anchor="middle" stroke="#111" stroke-width="0.08">8.13</text>
<text x="179.50" y="217.02" font-size="4.8" text-anchor="middle" stroke="#111" stroke-width="0.08">0.31</text>
<path d="M113.70,174.20 L120.20,169.20 L121.70,170.20 L116.20,176.20 Z" fill="#f6e0e0" stroke="#dca8ac" stroke-width="0.5" filter="url(#bl3)"/>
<path d="M171.00,172.50 L177.50,167.50 L179.00,168.50 L173.50,174.50 Z" fill="#f6e0e0" stroke="#dca8ac" stroke-width="0.5" filter="url(#bl3)"/>
<text x="253.40" y="163.00" font-size="7.5" stroke="#111" stroke-width="0.15" textLength="132.80" lengthAdjust="spacingAndGlyphs">Activated Platelets in PbA-infected Mice</text>
<text x="239.90" y="176.00" font-size="7.3" stroke="#111" stroke-width="0.15" textLength="32.10" lengthAdjust="spacingAndGlyphs">P-selectin</text>
<line x1="247.90" y1="189.60" x2="247.90" y2="199.40" stroke="#c0304a" stroke-width="1.0"/>
<line x1="243.70" y1="189.60" x2="252.10" y2="189.60" stroke="#c0304a" stroke-width="1.0"/>
<rect x="241.00" y="198.40" width="13.80" height="46.20" fill="#a00028"/>
<line x1="263.70" y1="228.40" x2="263.70" y2="231.50" stroke="#4a69a8" stroke-width="1.0"/>
<line x1="260.35" y1="228.40" x2="267.05" y2="228.40" stroke="#4a69a8" stroke-width="1.0"/>
<rect x="257.45" y="232.05" width="12.60" height="12.55" fill="#fff" stroke="#4a69a8" stroke-width="1.1"/>
<line x1="238.00" y1="182.60" x2="238.00" y2="244.60" stroke="#111" stroke-width="1.3"/>
<line x1="235.60" y1="244.60" x2="238.00" y2="244.60" stroke="#111" stroke-width="0.9"/>
<text x="232.40" y="246.53" font-size="5.4" text-anchor="end" stroke="#111" stroke-width="0.08">0</text>
<line x1="235.60" y1="232.62" x2="238.00" y2="232.62" stroke="#111" stroke-width="0.9"/>
<text x="232.40" y="234.56" font-size="5.4" text-anchor="end" stroke="#111" stroke-width="0.08">5</text>
<line x1="235.60" y1="220.65" x2="238.00" y2="220.65" stroke="#111" stroke-width="0.9"/>
<text x="232.40" y="222.58" font-size="5.4" text-anchor="end" stroke="#111" stroke-width="0.08">10</text>
<line x1="235.60" y1="208.68" x2="238.00" y2="208.68" stroke="#111" stroke-width="0.9"/>
<text x="232.40" y="210.61" font-size="5.4" text-anchor="end" stroke="#111" stroke-width="0.08">15</text>
<line x1="235.60" y1="196.70" x2="238.00" y2="196.70" stroke="#111" stroke-width="0.9"/>
<text x="232.40" y="198.63" font-size="5.4" text-anchor="end" stroke="#111" stroke-width="0.08">20</text>
<line x1="235.60" y1="184.72" x2="238.00" y2="184.72" stroke="#111" stroke-width="0.9"/>
<text x="232.40" y="186.66" font-size="5.4" text-anchor="end" stroke="#111" stroke-width="0.08">25</text>
<line x1="238.00" y1="244.60" x2="272.00" y2="244.60" stroke="#111" stroke-width="1.3"/>
<line x1="247.90" y1="244.60" x2="247.90" y2="246.60" stroke="#111" stroke-width="0.9"/>
<text x="247.90" y="256.04" font-size="5.7" text-anchor="middle" stroke="#111" stroke-width="0.15" textLength="7.00" lengthAdjust="spacingAndGlyphs">B6</text>
<line x1="263.70" y1="244.60" x2="263.70" y2="246.60" stroke="#111" stroke-width="0.9"/>
<line x1="247.30" y1="186.50" x2="264.20" y2="186.50" stroke="#111" stroke-width="0.9"/>
<line x1="247.30" y1="185.50" x2="247.30" y2="187.50" stroke="#111" stroke-width="0.9"/>
<line x1="264.20" y1="185.50" x2="264.20" y2="187.50" stroke="#111" stroke-width="0.9"/>
<text x="255.75" y="184.72" font-size="4.8" text-anchor="middle" stroke="#111" stroke-width="0.08" textLength="18.60" lengthAdjust="spacingAndGlyphs">p=0.0011</text>
<text x="256.00" y="255.80" font-size="5.5" font-style="italic" stroke="#111" stroke-width="0.15" textLength="22.40" lengthAdjust="spacingAndGlyphs">Nbeal2-/-</text>
<text x="0" y="0" font-size="6.4" text-anchor="middle" stroke="#111" stroke-width="0.3" textLength="65.00" lengthAdjust="spacingAndGlyphs" transform="translate(219.99 214.00) rotate(-90)">% P-selectin+ CD41+ cells</text>
<text x="318.30" y="175.60" font-size="8.0" stroke="#111" stroke-width="0.15" textLength="20.40" lengthAdjust="spacingAndGlyphs">CD63</text>
<line x1="320.70" y1="202.60" x2="320.70" y2="212.30" stroke="#c0304a" stroke-width="1.0"/>
<line x1="316.65" y1="202.60" x2="324.75" y2="202.60" stroke="#c0304a" stroke-width="1.0"/>
<rect x="313.90" y="211.30" width="13.40" height="32.90" fill="#a00028"/>
<line x1="336.50" y1="239.90" x2="336.50" y2="241.20" stroke="#4a69a8" stroke-width="1.0"/>
<line x1="333.25" y1="239.90" x2="339.75" y2="239.90" stroke="#4a69a8" stroke-width="1.0"/>
<rect x="330.25" y="241.75" width="12.40" height="2.45" fill="#fff" stroke="#4a69a8" stroke-width="1.1"/>
<line x1="310.10" y1="181.80" x2="310.10" y2="244.20" stroke="#111" stroke-width="1.3"/>
<line x1="307.70" y1="244.20" x2="310.10" y2="244.20" stroke="#111" stroke-width="0.9"/>
<text x="305.50" y="246.13" font-size="5.4" text-anchor="end" stroke="#111" stroke-width="0.08">0</text>
<line x1="307.70" y1="229.32" x2="310.10" y2="229.32" stroke="#111" stroke-width="0.9"/>
<text x="305.50" y="231.25" font-size="5.4" text-anchor="end" stroke="#111" stroke-width="0.08">2</text>
<line x1="307.70" y1="214.44" x2="310.10" y2="214.44" stroke="#111" stroke-width="0.9"/>
<text x="305.50" y="216.37" font-size="5.4" text-anchor="end" stroke="#111" stroke-width="0.08">4</text>
<line x1="307.70" y1="199.56" x2="310.10" y2="199.56" stroke="#111" stroke-width="0.9"/>
<text x="305.50" y="201.49" font-size="5.4" text-anchor="end" stroke="#111" stroke-width="0.08">6</text>
<line x1="307.70" y1="184.68" x2="310.10" y2="184.68" stroke="#111" stroke-width="0.9"/>
<text x="305.50" y="186.61" font-size="5.4" text-anchor="end" stroke="#111" stroke-width="0.08">8</text>
<line x1="310.10" y1="244.20" x2="346.80" y2="244.20" stroke="#111" stroke-width="1.3"/>
<line x1="320.70" y1="244.20" x2="320.70" y2="246.20" stroke="#111" stroke-width="0.9"/>
<text x="320.70" y="255.54" font-size="5.7" text-anchor="middle" stroke="#111" stroke-width="0.15" textLength="7.00" lengthAdjust="spacingAndGlyphs">B6</text>
<line x1="336.50" y1="244.20" x2="336.50" y2="246.20" stroke="#111" stroke-width="0.9"/>
<line x1="320.40" y1="186.70" x2="336.70" y2="186.70" stroke="#111" stroke-width="0.9"/>
<line x1="320.40" y1="185.70" x2="320.40" y2="187.70" stroke="#111" stroke-width="0.9"/>
<line x1="336.70" y1="185.70" x2="336.70" y2="187.70" stroke="#111" stroke-width="0.9"/>
<text x="328.55" y="185.12" font-size="4.8" text-anchor="middle" stroke="#111" stroke-width="0.08" textLength="19.20" lengthAdjust="spacingAndGlyphs">p=0.0001</text>
<text x="328.40" y="255.70" font-size="5.5" font-style="italic" stroke="#111" stroke-width="0.15" textLength="22.40" lengthAdjust="spacingAndGlyphs">Nbeal2-/-</text>
<text x="0" y="0" font-size="6.4" text-anchor="middle" stroke="#111" stroke-width="0.3" textLength="55.40" lengthAdjust="spacingAndGlyphs" transform="translate(296.09 213.50) rotate(-90)">% CD63+ CD41+ cells</text>
<text x="375.70" y="175.60" font-size="7.9" stroke="#111" stroke-width="0.15" textLength="42.40" lengthAdjust="spacingAndGlyphs">CD41/CD61</text>
<line x1="389.20" y1="192.40" x2="389.20" y2="203.60" stroke="#c0304a" stroke-width="1.0"/>
<line x1="385.75" y1="192.40" x2="392.65" y2="192.40" stroke="#c0304a" stroke-width="1.0"/>
<rect x="382.90" y="202.60" width="13.10" height="41.60" fill="#a00028"/>
<line x1="405.40" y1="238.30" x2="405.40" y2="239.30" stroke="#4a69a8" stroke-width="1.0"/>
<line x1="402.15" y1="238.30" x2="408.65" y2="238.30" stroke="#4a69a8" stroke-width="1.0"/>
<rect x="399.45" y="239.85" width="11.90" height="4.35" fill="#fff" stroke="#4a69a8" stroke-width="1.1"/>
<line x1="379.30" y1="181.80" x2="379.30" y2="244.20" stroke="#111" stroke-width="1.3"/>
<line x1="376.90" y1="244.20" x2="379.30" y2="244.20" stroke="#111" stroke-width="0.9"/>
<text x="374.60" y="246.13" font-size="5.4" text-anchor="end" stroke="#111" stroke-width="0.08">0</text>
<line x1="376.90" y1="224.46" x2="379.30" y2="224.46" stroke="#111" stroke-width="0.9"/>
<text x="374.60" y="226.39" font-size="5.4" text-anchor="end" stroke="#111" stroke-width="0.08">2</text>
<line x1="376.90" y1="204.72" x2="379.30" y2="204.72" stroke="#111" stroke-width="0.9"/>
<text x="374.60" y="206.65" font-size="5.4" text-anchor="end" stroke="#111" stroke-width="0.08">4</text>
<line x1="376.90" y1="184.98" x2="379.30" y2="184.98" stroke="#111" stroke-width="0.9"/>
<text x="374.60" y="186.91" font-size="5.4" text-anchor="end" stroke="#111" stroke-width="0.08">6</text>
<line x1="379.30" y1="244.20" x2="415.20" y2="244.20" stroke="#111" stroke-width="1.3"/>
<line x1="389.20" y1="244.20" x2="389.20" y2="246.20" stroke="#111" stroke-width="0.9"/>
<text x="389.20" y="255.54" font-size="5.7" text-anchor="middle" stroke="#111" stroke-width="0.15" textLength="7.00" lengthAdjust="spacingAndGlyphs">B6</text>
<line x1="405.40" y1="244.20" x2="405.40" y2="246.20" stroke="#111" stroke-width="0.9"/>
<line x1="388.60" y1="186.70" x2="405.40" y2="186.70" stroke="#111" stroke-width="0.9"/>
<line x1="388.60" y1="185.70" x2="388.60" y2="187.70" stroke="#111" stroke-width="0.9"/>
<line x1="405.40" y1="185.70" x2="405.40" y2="187.70" stroke="#111" stroke-width="0.9"/>
<text x="397.00" y="185.12" font-size="4.8" text-anchor="middle" stroke="#111" stroke-width="0.08" textLength="19.60" lengthAdjust="spacingAndGlyphs">p=0.0007</text>
<text x="397.30" y="255.70" font-size="5.5" font-style="italic" stroke="#111" stroke-width="0.15" textLength="22.40" lengthAdjust="spacingAndGlyphs">Nbeal2-/-</text>
<text x="0" y="0" font-size="6.4" text-anchor="middle" stroke="#111" stroke-width="0.3" textLength="57.00" lengthAdjust="spacingAndGlyphs" transform="translate(363.99 213.50) rotate(-90)">% JON/A+ CD41+ cells</text>
<text x="490.10" y="165.20" font-size="7.6" text-anchor="middle" stroke="#111" stroke-width="0.15" textLength="28.50" lengthAdjust="spacingAndGlyphs">Platelets</text>
<text x="490.10" y="174.20" font-size="7.6" text-anchor="middle" stroke="#111" stroke-width="0.15" textLength="35.50" lengthAdjust="spacingAndGlyphs">(Day 5 P.I.)</text>
<line x1="473.00" y1="214.40" x2="509.00" y2="214.40" stroke="#111" stroke-width="1.0" stroke-dasharray="2.6 1.6"/>
<line x1="482.10" y1="205.70" x2="482.10" y2="215.40" stroke="#c0304a" stroke-width="1.0"/>
<line x1="478.50" y1="205.70" x2="485.70" y2="205.70" stroke="#c0304a" stroke-width="1.0"/>
<rect x="475.30" y="214.40" width="13.50" height="29.90" fill="#a00028"/>
<line x1="497.80" y1="189.80" x2="497.80" y2="199.30" stroke="#4a69a8" stroke-width="1.0"/>
<line x1="494.35" y1="189.80" x2="501.25" y2="189.80" stroke="#4a69a8" stroke-width="1.0"/>
<rect x="491.45" y="199.85" width="12.80" height="44.45" fill="#fff" stroke="#4a69a8" stroke-width="1.1"/>
<line x1="472.40" y1="181.70" x2="472.40" y2="244.30" stroke="#111" stroke-width="1.3"/>
<line x1="470.00" y1="244.30" x2="472.40" y2="244.30" stroke="#111" stroke-width="0.9"/>
<text x="465.70" y="246.23" font-size="5.4" text-anchor="end" stroke="#111" stroke-width="0.08">0</text>
<line x1="470.00" y1="229.25" x2="472.40" y2="229.25" stroke="#111" stroke-width="0.9"/>
<text x="465.70" y="231.18" font-size="5.4" text-anchor="end" stroke="#111" stroke-width="0.08">50</text>
<line x1="470.00" y1="214.20" x2="472.40" y2="214.20" stroke="#111" stroke-width="0.9"/>
<text x="465.70" y="216.13" font-size="5.4" text-anchor="end" stroke="#111" stroke-width="0.08">100</text>
<line x1="470.00" y1="199.15" x2="472.40" y2="199.15" stroke="#111" stroke-width="0.9"/>
<text x="465.70" y="201.08" font-size="5.4" text-anchor="end" stroke="#111" stroke-width="0.08">150</text>
<line x1="470.00" y1="184.10" x2="472.40" y2="184.10" stroke="#111" stroke-width="0.9"/>
<text x="465.70" y="186.03" font-size="5.4" text-anchor="end" stroke="#111" stroke-width="0.08">200</text>
<line x1="472.40" y1="244.30" x2="508.70" y2="244.30" stroke="#111" stroke-width="1.3"/>
<line x1="482.10" y1="244.30" x2="482.10" y2="246.30" stroke="#111" stroke-width="0.9"/>
<text x="482.10" y="255.84" font-size="5.7" text-anchor="middle" stroke="#111" stroke-width="0.15" textLength="7.00" lengthAdjust="spacingAndGlyphs">B6</text>
<line x1="497.80" y1="244.30" x2="497.80" y2="246.30" stroke="#111" stroke-width="0.9"/>
<line x1="481.90" y1="185.50" x2="498.70" y2="185.50" stroke="#111" stroke-width="0.9"/>
<line x1="481.90" y1="184.50" x2="481.90" y2="186.50" stroke="#111" stroke-width="0.9"/>
<line x1="498.70" y1="184.50" x2="498.70" y2="186.50" stroke="#111" stroke-width="0.9"/>
<text x="490.30" y="183.72" font-size="4.8" text-anchor="middle" stroke="#111" stroke-width="0.08" textLength="19.90" lengthAdjust="spacingAndGlyphs">p=0.0063</text>
<line x1="475.30" y1="214.40" x2="488.80" y2="214.40" stroke="#111" stroke-width="1.0" stroke-dasharray="2.6 1.6"/>
<text x="489.90" y="255.80" font-size="5.5" font-style="italic" stroke="#111" stroke-width="0.15" textLength="22.40" lengthAdjust="spacingAndGlyphs">Nbeal2-/-</text>
<text x="0" y="0" font-size="6.3" text-anchor="middle" stroke="#111" stroke-width="0.3" textLength="60.60" lengthAdjust="spacingAndGlyphs" transform="translate(440.06 213.20) rotate(-90)">Platelet count (% relative</text>
<text x="0" y="0" font-size="6.3" text-anchor="middle" stroke="#111" stroke-width="0.3" textLength="38.10" lengthAdjust="spacingAndGlyphs" transform="translate(451.26 213.20) rotate(-90)">to control mice)</text>
<text x="8.10" y="308.40" font-size="12" font-weight="bold" stroke="#111" stroke-width="0.35">E</text>
<text x="52.00" y="343.00" font-size="7.25" stroke="#111" stroke-width="0.15" textLength="39.50" lengthAdjust="spacingAndGlyphs">Plasma PF4</text>
<line x1="45.30" y1="366.90" x2="45.30" y2="380.00" stroke="#c0304a" stroke-width="1.0"/>
<line x1="41.90" y1="366.90" x2="48.70" y2="366.90" stroke="#c0304a" stroke-width="1.0"/>
<rect x="38.90" y="379.60" width="12.60" height="48.70" fill="#a00028"/>
<line x1="61.50" y1="420.10" x2="61.50" y2="422.40" stroke="#d98c7f" stroke-width="1.0"/>
<line x1="58.05" y1="420.10" x2="64.95" y2="420.10" stroke="#d98c7f" stroke-width="1.0"/>
<rect x="55.10" y="422.40" width="12.60" height="5.90" fill="#d98c7f"/>
<line x1="81.50" y1="401.90" x2="81.50" y2="406.20" stroke="#4a69a8" stroke-width="1.0"/>
<line x1="78.05" y1="401.90" x2="84.95" y2="401.90" stroke="#4a69a8" stroke-width="1.0"/>
<rect x="75.65" y="406.75" width="12.00" height="21.55" fill="#fff" stroke="#4a69a8" stroke-width="1.1"/>
<line x1="97.70" y1="424.20" x2="97.70" y2="425.80" stroke="#9aa6d6" stroke-width="1.0"/>
<line x1="94.25" y1="424.20" x2="101.15" y2="424.20" stroke="#9aa6d6" stroke-width="1.0"/>
<rect x="91.75" y="426.35" width="12.00" height="1.95" fill="#fff" stroke="#9aa6d6" stroke-width="1.1"/>
<line x1="35.40" y1="353.70" x2="35.40" y2="428.30" stroke="#111" stroke-width="1.3"/>
<line x1="32.30" y1="428.30" x2="35.40" y2="428.30" stroke="#111" stroke-width="0.9"/>
<text x="28.60" y="430.27" font-size="5.5" text-anchor="end" stroke="#111" stroke-width="0.15">0</text>
<line x1="32.30" y1="416.12" x2="35.40" y2="416.12" stroke="#111" stroke-width="0.9"/>
<text x="28.60" y="418.09" font-size="5.5" text-anchor="end" stroke="#111" stroke-width="0.15">150</text>
<line x1="32.30" y1="403.94" x2="35.40" y2="403.94" stroke="#111" stroke-width="0.9"/>
<text x="28.60" y="405.91" font-size="5.5" text-anchor="end" stroke="#111" stroke-width="0.15">300</text>
<line x1="32.30" y1="391.76" x2="35.40" y2="391.76" stroke="#111" stroke-width="0.9"/>
<text x="28.60" y="393.73" font-size="5.5" text-anchor="end" stroke="#111" stroke-width="0.15">450</text>
<line x1="32.30" y1="379.58" x2="35.40" y2="379.58" stroke="#111" stroke-width="0.9"/>
<text x="28.60" y="381.55" font-size="5.5" text-anchor="end" stroke="#111" stroke-width="0.15">600</text>
<line x1="32.30" y1="367.40" x2="35.40" y2="367.40" stroke="#111" stroke-width="0.9"/>
<text x="28.60" y="369.37" font-size="5.5" text-anchor="end" stroke="#111" stroke-width="0.15">750</text>
<line x1="32.30" y1="355.22" x2="35.40" y2="355.22" stroke="#111" stroke-width="0.9"/>
<text x="28.60" y="357.19" font-size="5.5" text-anchor="end" stroke="#111" stroke-width="0.15">900</text>
<line x1="35.40" y1="428.30" x2="106.90" y2="428.30" stroke="#111" stroke-width="1.4"/>
<line x1="45.40" y1="428.30" x2="45.40" y2="431.20" stroke="#111" stroke-width="0.9"/>
<text x="45.40" y="439.73" font-size="5.4" text-anchor="middle" stroke="#111" stroke-width="0.08">N</text>
<line x1="61.50" y1="428.30" x2="61.50" y2="431.20" stroke="#111" stroke-width="0.9"/>
<text x="61.50" y="439.73" font-size="5.4" text-anchor="middle" font-style="italic" stroke="#111" stroke-width="0.08">PbA</text>
<line x1="81.50" y1="428.30" x2="81.50" y2="431.20" stroke="#111" stroke-width="0.9"/>
<text x="81.50" y="439.73" font-size="5.4" text-anchor="middle" stroke="#111" stroke-width="0.08">N</text>
<line x1="97.70" y1="428.30" x2="97.70" y2="431.20" stroke="#111" stroke-width="0.9"/>
<text x="97.70" y="439.73" font-size="5.4" text-anchor="middle" font-style="italic" stroke="#111" stroke-width="0.08">PbA</text>
<path d="M40.50,443.60 Q40.50,445.0 42.00,445.0 L68.20,445.0 Q69.70,445.0 69.70,443.6" stroke="#111" stroke-width="0.9" fill="none"/>
<path d="M76.20,443.60 Q76.20,445.0 77.70,445.0 L104.20,445.0 Q105.70,445.0 105.70,443.6" stroke="#111" stroke-width="0.9" fill="none"/>
<text x="55.00" y="453.98" font-size="5.8" text-anchor="middle" stroke="#111" stroke-width="0.15" textLength="25.40" lengthAdjust="spacingAndGlyphs">C57BL/6J</text>
<text x="91.20" y="453.98" font-size="5.8" text-anchor="middle" font-style="italic" stroke="#111" stroke-width="0.15" textLength="22.30" lengthAdjust="spacingAndGlyphs">Nbeal2-/-</text>
<text x="0" y="0" font-size="6.6" text-anchor="middle" stroke="#111" stroke-width="0.3" textLength="28.30" lengthAdjust="spacingAndGlyphs" transform="translate(14.46 392.00) rotate(-90)">PF4 (ng/mL)</text>
<line x1="44.60" y1="355.00" x2="82.60" y2="355.00" stroke="#111" stroke-width="0.9"/>
<line x1="44.60" y1="354.00" x2="44.60" y2="356.00" stroke="#111" stroke-width="0.9"/>
<line x1="82.60" y1="354.00" x2="82.60" y2="356.00" stroke="#111" stroke-width="0.9"/>
<text x="63.50" y="353.30" font-size="5.6" text-anchor="middle" stroke="#111" stroke-width="0.15" textLength="24.60" lengthAdjust="spacingAndGlyphs">p=0.0220</text>
<line x1="44.60" y1="363.50" x2="61.50" y2="363.50" stroke="#111" stroke-width="0.9"/>
<line x1="44.60" y1="362.50" x2="44.60" y2="364.50" stroke="#111" stroke-width="0.9"/>
<line x1="61.50" y1="362.50" x2="61.50" y2="364.50" stroke="#111" stroke-width="0.9"/>
<text x="52.50" y="361.10" font-size="5.6" text-anchor="middle" stroke="#111" stroke-width="0.15" textLength="23.40" lengthAdjust="spacingAndGlyphs">p&lt;0.0001</text>
<line x1="81.50" y1="363.50" x2="97.70" y2="363.50" stroke="#111" stroke-width="0.9"/>
<line x1="81.50" y1="362.50" x2="81.50" y2="364.50" stroke="#111" stroke-width="0.9"/>
<line x1="97.70" y1="362.50" x2="97.70" y2="364.50" stroke="#111" stroke-width="0.9"/>
<text x="89.80" y="361.10" font-size="5.6" text-anchor="middle" stroke="#111" stroke-width="0.15" textLength="24.30" lengthAdjust="spacingAndGlyphs">p=0.0002</text>
<line x1="60.50" y1="371.80" x2="97.70" y2="371.80" stroke="#111" stroke-width="0.9"/>
<line x1="60.50" y1="370.80" x2="60.50" y2="372.80" stroke="#111" stroke-width="0.9"/>
<line x1="97.70" y1="370.80" x2="97.70" y2="372.80" stroke="#111" stroke-width="0.9"/>
<text x="79.20" y="370.00" font-size="5.6" text-anchor="middle" stroke="#111" stroke-width="0.15" textLength="24.60" lengthAdjust="spacingAndGlyphs">p=0.0316</text>
<text x="150.80" y="307.60" font-size="12" font-weight="bold" stroke="#111" stroke-width="0.35">F</text>
<text x="185.90" y="318.91" font-size="7.0" text-anchor="middle" stroke="#111" stroke-width="0.15" textLength="18.70" lengthAdjust="spacingAndGlyphs">Naive</text>
<text x="220.60" y="318.91" font-size="7.0" text-anchor="middle" stroke="#111" stroke-width="0.15" textLength="26.60" lengthAdjust="spacingAndGlyphs">Infected</text>
<rect x="168.80" y="321.80" width="32.80" height="36.30" fill="#4b4b4b" stroke="#0a0a0a" stroke-width="1.3"/>
<rect x="204.80" y="321.80" width="32.90" height="36.30" fill="#4b4b4b" stroke="#0a0a0a" stroke-width="1.3"/>
<text x="166.00" y="373.40" font-size="7.45" stroke="#111" stroke-width="0.15" textLength="71.10" lengthAdjust="spacingAndGlyphs">Spleen Parasite Load</text>
<text x="0" y="0" font-size="7.0" text-anchor="middle" stroke="#111" stroke-width="0.3" textLength="76.40" lengthAdjust="spacingAndGlyphs" transform="translate(159.11 416.20) rotate(-90)">Bioluminescence (p/sec/cm<tspan font-size="4.5" dy="-1.8">2</tspan><tspan dy="1.8">/sr)</tspan></text>
<line x1="178.60" y1="380.40" x2="178.60" y2="450.40" stroke="#111" stroke-width="1.3"/>
<line x1="176.20" y1="384.20" x2="178.60" y2="384.20" stroke="#111" stroke-width="0.9"/>
<text x="172.40" y="386.20" font-size="5.6" text-anchor="end" stroke="#111" stroke-width="0.15">10<tspan font-size="3.8" dy="-1.9">7</tspan></text>
<line x1="176.20" y1="413.00" x2="178.60" y2="413.00" stroke="#111" stroke-width="0.9"/>
<text x="172.40" y="415.00" font-size="5.6" text-anchor="end" stroke="#111" stroke-width="0.15">10<tspan font-size="3.8" dy="-1.9">6</tspan></text>
<line x1="176.20" y1="441.90" x2="178.60" y2="441.90" stroke="#111" stroke-width="0.9"/>
<text x="172.40" y="443.90" font-size="5.6" text-anchor="end" stroke="#111" stroke-width="0.15">10<tspan font-size="3.8" dy="-1.9">5</tspan></text>
<line x1="176.90" y1="404.33" x2="178.60" y2="404.33" stroke="#111" stroke-width="0.7"/>
<line x1="176.90" y1="399.26" x2="178.60" y2="399.26" stroke="#111" stroke-width="0.7"/>
<line x1="176.90" y1="395.66" x2="178.60" y2="395.66" stroke="#111" stroke-width="0.7"/>
<line x1="176.90" y1="392.87" x2="178.60" y2="392.87" stroke="#111" stroke-width="0.7"/>
<line x1="176.90" y1="390.59" x2="178.60" y2="390.59" stroke="#111" stroke-width="0.7"/>
<line x1="176.90" y1="388.66" x2="178.60" y2="388.66" stroke="#111" stroke-width="0.7"/>
<line x1="176.90" y1="386.99" x2="178.60" y2="386.99" stroke="#111" stroke-width="0.7"/>
<line x1="176.90" y1="385.52" x2="178.60" y2="385.52" stroke="#111" stroke-width="0.7"/>
<line x1="176.90" y1="433.20" x2="178.60" y2="433.20" stroke="#111" stroke-width="0.7"/>
<line x1="176.90" y1="428.11" x2="178.60" y2="428.11" stroke="#111" stroke-width="0.7"/>
<line x1="176.90" y1="424.50" x2="178.60" y2="424.50" stroke="#111" stroke-width="0.7"/>
<line x1="176.90" y1="421.70" x2="178.60" y2="421.70" stroke="#111" stroke-width="0.7"/>
<line x1="176.90" y1="419.41" x2="178.60" y2="419.41" stroke="#111" stroke-width="0.7"/>
<line x1="176.90" y1="417.48" x2="178.60" y2="417.48" stroke="#111" stroke-width="0.7"/>
<line x1="176.90" y1="415.80" x2="178.60" y2="415.80" stroke="#111" stroke-width="0.7"/>
<line x1="176.90" y1="414.32" x2="178.60" y2="414.32" stroke="#111" stroke-width="0.7"/>
<line x1="178.60" y1="450.40" x2="223.30" y2="450.40" stroke="#111" stroke-width="1.3"/>
<line x1="191.65" y1="394.50" x2="191.65" y2="399.50" stroke="#111" stroke-width="1.0"/>
<line x1="191.65" y1="418.30" x2="191.65" y2="423.50" stroke="#111" stroke-width="1.0"/>
<line x1="187.60" y1="394.50" x2="195.70" y2="394.50" stroke="#111" stroke-width="1.0"/>
<line x1="187.60" y1="423.50" x2="195.70" y2="423.50" stroke="#111" stroke-width="1.0"/>
<rect x="183.30" y="399.50" width="16.40" height="18.80" fill="none" stroke="#1a1a1a" stroke-width="1.1"/>
<line x1="183.30" y1="407.30" x2="199.70" y2="407.30" stroke="#111" stroke-width="1.3"/>
<circle cx="191.50" cy="394.50" r="1.55" fill="none" stroke="#c0304a" stroke-width="0.95"/>
<circle cx="191.50" cy="398.50" r="1.55" fill="none" stroke="#c0304a" stroke-width="0.95"/>
<circle cx="191.20" cy="402.80" r="1.55" fill="none" stroke="#c0304a" stroke-width="0.95"/>
<circle cx="189.50" cy="407.30" r="1.55" fill="none" stroke="#c0304a" stroke-width="0.95"/>
<circle cx="193.50" cy="407.30" r="1.55" fill="none" stroke="#c0304a" stroke-width="0.95"/>
<circle cx="191.30" cy="416.00" r="1.55" fill="none" stroke="#c0304a" stroke-width="0.95"/>
<circle cx="191.30" cy="420.00" r="1.55" fill="none" stroke="#c0304a" stroke-width="0.95"/>
<circle cx="191.30" cy="423.50" r="1.55" fill="none" stroke="#c0304a" stroke-width="0.95"/>
<line x1="211.30" y1="408.60" x2="211.30" y2="415.40" stroke="#111" stroke-width="1.0"/>
<line x1="211.30" y1="436.50" x2="211.30" y2="441.00" stroke="#111" stroke-width="1.0"/>
<line x1="207.10" y1="408.60" x2="215.50" y2="408.60" stroke="#111" stroke-width="1.0"/>
<line x1="207.10" y1="441.00" x2="215.50" y2="441.00" stroke="#111" stroke-width="1.0"/>
<rect x="203.30" y="415.40" width="16.60" height="21.10" fill="none" stroke="#1a1a1a" stroke-width="1.1"/>
<line x1="203.30" y1="427.20" x2="219.90" y2="427.20" stroke="#111" stroke-width="1.3"/>
<circle cx="211.30" cy="408.60" r="1.55" fill="none" stroke="#4a69a8" stroke-width="0.95"/>
<circle cx="211.30" cy="413.50" r="1.55" fill="none" stroke="#4a69a8" stroke-width="0.95"/>
<circle cx="211.30" cy="421.00" r="1.55" fill="none" stroke="#4a69a8" stroke-width="0.95"/>
<circle cx="211.30" cy="423.50" r="1.55" fill="none" stroke="#4a69a8" stroke-width="0.95"/>
<circle cx="211.30" cy="430.00" r="1.55" fill="none" stroke="#4a69a8" stroke-width="0.95"/>
<circle cx="211.30" cy="434.50" r="1.55" fill="none" stroke="#4a69a8" stroke-width="0.95"/>
<circle cx="211.30" cy="438.00" r="1.55" fill="none" stroke="#4a69a8" stroke-width="0.95"/>
<circle cx="211.30" cy="441.00" r="1.55" fill="none" stroke="#4a69a8" stroke-width="0.95"/>
<line x1="191.50" y1="450.40" x2="191.50" y2="452.70" stroke="#111" stroke-width="0.9"/>
<line x1="211.30" y1="450.40" x2="211.30" y2="452.70" stroke="#111" stroke-width="0.9"/>
<text x="191.50" y="461.80" font-size="5.6" text-anchor="middle" stroke="#111" stroke-width="0.15">B6</text>
<text x="212.20" y="461.80" font-size="5.6" text-anchor="middle" font-style="italic" stroke="#111" stroke-width="0.15" textLength="23.00" lengthAdjust="spacingAndGlyphs">Nbeal2-/-</text>
<line x1="191.20" y1="385.50" x2="211.80" y2="385.50" stroke="#111" stroke-width="0.9"/>
<line x1="191.20" y1="384.50" x2="191.20" y2="386.50" stroke="#111" stroke-width="0.9"/>
<line x1="211.80" y1="384.50" x2="211.80" y2="386.50" stroke="#111" stroke-width="0.9"/>
<text x="201.50" y="383.05" font-size="4.9" text-anchor="middle" stroke="#111" stroke-width="0.08" textLength="24.60" lengthAdjust="spacingAndGlyphs">p=0.0070</text>
<text x="287.40" y="308.20" font-size="12" font-weight="bold" stroke="#111" stroke-width="0.35">G</text>
<text x="318.60" y="318.91" font-size="7.0" text-anchor="middle" stroke="#111" stroke-width="0.15" textLength="18.60" lengthAdjust="spacingAndGlyphs">Naive</text>
<text x="355.90" y="318.91" font-size="7.0" text-anchor="middle" stroke="#111" stroke-width="0.15" textLength="26.60" lengthAdjust="spacingAndGlyphs">Infected</text>
<rect x="301.70" y="322.90" width="33.90" height="35.70" fill="#4b4b4b" stroke="#0a0a0a" stroke-width="1.3"/>
<rect x="339.10" y="322.90" width="34.90" height="35.70" fill="#4b4b4b" stroke="#0a0a0a" stroke-width="1.3"/>
<text x="305.30" y="375.00" font-size="7.5" stroke="#111" stroke-width="0.15" textLength="65.20" lengthAdjust="spacingAndGlyphs">Lung Parasite Load</text>
<text x="0" y="0" font-size="7.0" text-anchor="middle" stroke="#111" stroke-width="0.3" textLength="76.40" lengthAdjust="spacingAndGlyphs" transform="translate(295.81 416.20) rotate(-90)">Bioluminescence (p/sec/cm<tspan font-size="4.5" dy="-1.8">2</tspan><tspan dy="1.8">/sr)</tspan></text>
<line x1="315.60" y1="380.40" x2="315.60" y2="450.40" stroke="#111" stroke-width="1.3"/>
<line x1="313.20" y1="383.70" x2="315.60" y2="383.70" stroke="#111" stroke-width="0.9"/>
<text x="308.00" y="385.70" font-size="5.6" text-anchor="end" stroke="#111" stroke-width="0.15">10<tspan font-size="3.8" dy="-1.9">8</tspan></text>
<line x1="313.20" y1="405.70" x2="315.60" y2="405.70" stroke="#111" stroke-width="0.9"/>
<text x="308.00" y="407.70" font-size="5.6" text-anchor="end" stroke="#111" stroke-width="0.15">10<tspan font-size="3.8" dy="-1.9">7</tspan></text>
<line x1="313.20" y1="428.20" x2="315.60" y2="428.20" stroke="#111" stroke-width="0.9"/>
<text x="308.00" y="430.20" font-size="5.6" text-anchor="end" stroke="#111" stroke-width="0.15">10<tspan font-size="3.8" dy="-1.9">6</tspan></text>
<line x1="313.20" y1="450.40" x2="315.60" y2="450.40" stroke="#111" stroke-width="0.9"/>
<text x="308.00" y="452.40" font-size="5.6" text-anchor="end" stroke="#111" stroke-width="0.15">10<tspan font-size="3.8" dy="-1.9">5</tspan></text>
<line x1="313.90" y1="399.08" x2="315.60" y2="399.08" stroke="#111" stroke-width="0.7"/>
<line x1="313.90" y1="395.20" x2="315.60" y2="395.20" stroke="#111" stroke-width="0.7"/>
<line x1="313.90" y1="392.45" x2="315.60" y2="392.45" stroke="#111" stroke-width="0.7"/>
<line x1="313.90" y1="390.32" x2="315.60" y2="390.32" stroke="#111" stroke-width="0.7"/>
<line x1="313.90" y1="388.58" x2="315.60" y2="388.58" stroke="#111" stroke-width="0.7"/>
<line x1="313.90" y1="387.11" x2="315.60" y2="387.11" stroke="#111" stroke-width="0.7"/>
<line x1="313.90" y1="385.83" x2="315.60" y2="385.83" stroke="#111" stroke-width="0.7"/>
<line x1="313.90" y1="384.71" x2="315.60" y2="384.71" stroke="#111" stroke-width="0.7"/>
<line x1="313.90" y1="421.43" x2="315.60" y2="421.43" stroke="#111" stroke-width="0.7"/>
<line x1="313.90" y1="417.46" x2="315.60" y2="417.46" stroke="#111" stroke-width="0.7"/>
<line x1="313.90" y1="414.65" x2="315.60" y2="414.65" stroke="#111" stroke-width="0.7"/>
<line x1="313.90" y1="412.47" x2="315.60" y2="412.47" stroke="#111" stroke-width="0.7"/>
<line x1="313.90" y1="410.69" x2="315.60" y2="410.69" stroke="#111" stroke-width="0.7"/>
<line x1="313.90" y1="409.19" x2="315.60" y2="409.19" stroke="#111" stroke-width="0.7"/>
<line x1="313.90" y1="407.88" x2="315.60" y2="407.88" stroke="#111" stroke-width="0.7"/>
<line x1="313.90" y1="406.73" x2="315.60" y2="406.73" stroke="#111" stroke-width="0.7"/>
<line x1="313.90" y1="443.72" x2="315.60" y2="443.72" stroke="#111" stroke-width="0.7"/>
<line x1="313.90" y1="439.81" x2="315.60" y2="439.81" stroke="#111" stroke-width="0.7"/>
<line x1="313.90" y1="437.03" x2="315.60" y2="437.03" stroke="#111" stroke-width="0.7"/>
<line x1="313.90" y1="434.88" x2="315.60" y2="434.88" stroke="#111" stroke-width="0.7"/>
<line x1="313.90" y1="433.13" x2="315.60" y2="433.13" stroke="#111" stroke-width="0.7"/>
<line x1="313.90" y1="431.64" x2="315.60" y2="431.64" stroke="#111" stroke-width="0.7"/>
<line x1="313.90" y1="430.35" x2="315.60" y2="430.35" stroke="#111" stroke-width="0.7"/>
<line x1="313.90" y1="429.22" x2="315.60" y2="429.22" stroke="#111" stroke-width="0.7"/>
<line x1="315.60" y1="450.40" x2="359.60" y2="450.40" stroke="#111" stroke-width="1.3"/>
<line x1="328.45" y1="402.60" x2="328.45" y2="409.60" stroke="#111" stroke-width="1.0"/>
<line x1="328.45" y1="424.40" x2="328.45" y2="426.10" stroke="#111" stroke-width="1.0"/>
<line x1="324.90" y1="402.60" x2="332.00" y2="402.60" stroke="#111" stroke-width="1.0"/>
<line x1="324.90" y1="426.10" x2="332.00" y2="426.10" stroke="#111" stroke-width="1.0"/>
<rect x="320.60" y="409.60" width="15.40" height="14.80" fill="none" stroke="#1a1a1a" stroke-width="1.1"/>
<line x1="320.60" y1="419.40" x2="336.00" y2="419.40" stroke="#111" stroke-width="1.3"/>
<circle cx="328.30" cy="402.60" r="1.55" fill="none" stroke="#c0304a" stroke-width="0.95"/>
<circle cx="326.50" cy="410.30" r="1.55" fill="none" stroke="#c0304a" stroke-width="0.95"/>
<circle cx="330.50" cy="410.30" r="1.55" fill="none" stroke="#c0304a" stroke-width="0.95"/>
<circle cx="328.30" cy="418.50" r="1.55" fill="none" stroke="#c0304a" stroke-width="0.95"/>
<circle cx="328.30" cy="421.50" r="1.55" fill="none" stroke="#c0304a" stroke-width="0.95"/>
<circle cx="326.50" cy="424.00" r="1.55" fill="none" stroke="#c0304a" stroke-width="0.95"/>
<circle cx="330.50" cy="424.50" r="1.55" fill="none" stroke="#c0304a" stroke-width="0.95"/>
<circle cx="326.80" cy="426.30" r="1.55" fill="none" stroke="#c0304a" stroke-width="0.95"/>
<line x1="347.60" y1="416.50" x2="347.60" y2="418.30" stroke="#111" stroke-width="1.0"/>
<line x1="347.60" y1="429.90" x2="347.60" y2="441.20" stroke="#111" stroke-width="1.0"/>
<line x1="343.70" y1="416.50" x2="351.50" y2="416.50" stroke="#111" stroke-width="1.0"/>
<line x1="343.70" y1="441.20" x2="351.50" y2="441.20" stroke="#111" stroke-width="1.0"/>
<rect x="339.40" y="418.30" width="16.80" height="11.60" fill="none" stroke="#1a1a1a" stroke-width="1.1"/>
<line x1="339.40" y1="423.00" x2="356.20" y2="423.00" stroke="#111" stroke-width="1.3"/>
<circle cx="345.00" cy="417.50" r="1.55" fill="none" stroke="#4a69a8" stroke-width="0.95"/>
<circle cx="350.00" cy="416.50" r="1.55" fill="none" stroke="#4a69a8" stroke-width="0.95"/>
<circle cx="343.50" cy="423.00" r="1.55" fill="none" stroke="#4a69a8" stroke-width="0.95"/>
<circle cx="347.50" cy="423.00" r="1.55" fill="none" stroke="#4a69a8" stroke-width="0.95"/>
<circle cx="351.50" cy="423.00" r="1.55" fill="none" stroke="#4a69a8" stroke-width="0.95"/>
<circle cx="347.50" cy="427.50" r="1.55" fill="none" stroke="#4a69a8" stroke-width="0.95"/>
<circle cx="347.50" cy="431.50" r="1.55" fill="none" stroke="#4a69a8" stroke-width="0.95"/>
<circle cx="347.50" cy="441.20" r="1.55" fill="none" stroke="#4a69a8" stroke-width="0.95"/>
<line x1="328.00" y1="450.40" x2="328.00" y2="452.70" stroke="#111" stroke-width="0.9"/>
<line x1="347.80" y1="450.40" x2="347.80" y2="452.70" stroke="#111" stroke-width="0.9"/>
<text x="328.00" y="461.80" font-size="5.6" text-anchor="middle" stroke="#111" stroke-width="0.15">B6</text>
<text x="348.70" y="461.80" font-size="5.6" text-anchor="middle" font-style="italic" stroke="#111" stroke-width="0.15" textLength="21.90" lengthAdjust="spacingAndGlyphs">Nbeal2-/-</text>
<text x="422.50" y="307.10" font-size="12" font-weight="bold" stroke="#111" stroke-width="0.35">H</text>
<text x="455.80" y="314.71" font-size="7.0" text-anchor="middle" stroke="#111" stroke-width="0.15" textLength="18.60" lengthAdjust="spacingAndGlyphs">Naive</text>
<text x="493.50" y="314.71" font-size="7.0" text-anchor="middle" stroke="#111" stroke-width="0.15" textLength="27.40" lengthAdjust="spacingAndGlyphs">Infected</text>
<rect x="438.70" y="317.70" width="34.20" height="40.20" fill="#4b4b4b" stroke="#0a0a0a" stroke-width="1.3"/>
<rect x="476.40" y="317.70" width="34.60" height="40.20" fill="#4b4b4b" stroke="#0a0a0a" stroke-width="1.3"/>
<text x="441.10" y="375.00" font-size="7.45" stroke="#111" stroke-width="0.15" textLength="65.30" lengthAdjust="spacingAndGlyphs">Brain Parasite Load</text>
<text x="0" y="0" font-size="7.0" text-anchor="middle" stroke="#111" stroke-width="0.3" textLength="76.40" lengthAdjust="spacingAndGlyphs" transform="translate(431.11 416.20) rotate(-90)">Bioluminescence (p/sec/cm<tspan font-size="4.5" dy="-1.8">2</tspan><tspan dy="1.8">/sr)</tspan></text>
<line x1="451.50" y1="380.40" x2="451.50" y2="450.40" stroke="#111" stroke-width="1.3"/>
<line x1="449.10" y1="384.20" x2="451.50" y2="384.20" stroke="#111" stroke-width="0.9"/>
<text x="444.80" y="386.20" font-size="5.6" text-anchor="end" stroke="#111" stroke-width="0.15">10<tspan font-size="3.8" dy="-1.9">6</tspan></text>
<line x1="449.10" y1="406.20" x2="451.50" y2="406.20" stroke="#111" stroke-width="0.9"/>
<text x="444.80" y="408.20" font-size="5.6" text-anchor="end" stroke="#111" stroke-width="0.15">10<tspan font-size="3.8" dy="-1.9">5</tspan></text>
<line x1="449.10" y1="428.60" x2="451.50" y2="428.60" stroke="#111" stroke-width="0.9"/>
<text x="444.80" y="430.60" font-size="5.6" text-anchor="end" stroke="#111" stroke-width="0.15">10<tspan font-size="3.8" dy="-1.9">4</tspan></text>
<line x1="449.10" y1="451.00" x2="451.50" y2="451.00" stroke="#111" stroke-width="0.9"/>
<text x="444.80" y="453.00" font-size="5.6" text-anchor="end" stroke="#111" stroke-width="0.15">10<tspan font-size="3.8" dy="-1.9">3</tspan></text>
<line x1="449.80" y1="399.58" x2="451.50" y2="399.58" stroke="#111" stroke-width="0.7"/>
<line x1="449.80" y1="395.70" x2="451.50" y2="395.70" stroke="#111" stroke-width="0.7"/>
<line x1="449.80" y1="392.95" x2="451.50" y2="392.95" stroke="#111" stroke-width="0.7"/>
<line x1="449.80" y1="390.82" x2="451.50" y2="390.82" stroke="#111" stroke-width="0.7"/>
<line x1="449.80" y1="389.08" x2="451.50" y2="389.08" stroke="#111" stroke-width="0.7"/>
<line x1="449.80" y1="387.61" x2="451.50" y2="387.61" stroke="#111" stroke-width="0.7"/>
<line x1="449.80" y1="386.33" x2="451.50" y2="386.33" stroke="#111" stroke-width="0.7"/>
<line x1="449.80" y1="385.21" x2="451.50" y2="385.21" stroke="#111" stroke-width="0.7"/>
<line x1="449.80" y1="421.86" x2="451.50" y2="421.86" stroke="#111" stroke-width="0.7"/>
<line x1="449.80" y1="417.91" x2="451.50" y2="417.91" stroke="#111" stroke-width="0.7"/>
<line x1="449.80" y1="415.11" x2="451.50" y2="415.11" stroke="#111" stroke-width="0.7"/>
<line x1="449.80" y1="412.94" x2="451.50" y2="412.94" stroke="#111" stroke-width="0.7"/>
<line x1="449.80" y1="411.17" x2="451.50" y2="411.17" stroke="#111" stroke-width="0.7"/>
<line x1="449.80" y1="409.67" x2="451.50" y2="409.67" stroke="#111" stroke-width="0.7"/>
<line x1="449.80" y1="408.37" x2="451.50" y2="408.37" stroke="#111" stroke-width="0.7"/>
<line x1="449.80" y1="407.22" x2="451.50" y2="407.22" stroke="#111" stroke-width="0.7"/>
<line x1="449.80" y1="444.26" x2="451.50" y2="444.26" stroke="#111" stroke-width="0.7"/>
<line x1="449.80" y1="440.31" x2="451.50" y2="440.31" stroke="#111" stroke-width="0.7"/>
<line x1="449.80" y1="437.51" x2="451.50" y2="437.51" stroke="#111" stroke-width="0.7"/>
<line x1="449.80" y1="435.34" x2="451.50" y2="435.34" stroke="#111" stroke-width="0.7"/>
<line x1="449.80" y1="433.57" x2="451.50" y2="433.57" stroke="#111" stroke-width="0.7"/>
<line x1="449.80" y1="432.07" x2="451.50" y2="432.07" stroke="#111" stroke-width="0.7"/>
<line x1="449.80" y1="430.77" x2="451.50" y2="430.77" stroke="#111" stroke-width="0.7"/>
<line x1="449.80" y1="429.62" x2="451.50" y2="429.62" stroke="#111" stroke-width="0.7"/>
<line x1="451.50" y1="450.40" x2="495.30" y2="450.40" stroke="#111" stroke-width="1.3"/>
<line x1="463.95" y1="399.00" x2="463.95" y2="407.00" stroke="#111" stroke-width="1.0"/>
<line x1="463.95" y1="421.40" x2="463.95" y2="428.60" stroke="#111" stroke-width="1.0"/>
<line x1="459.90" y1="399.00" x2="468.00" y2="399.00" stroke="#111" stroke-width="1.0"/>
<line x1="459.90" y1="428.60" x2="468.00" y2="428.60" stroke="#111" stroke-width="1.0"/>
<rect x="455.60" y="407.00" width="16.80" height="14.40" fill="none" stroke="#1a1a1a" stroke-width="1.1"/>
<line x1="455.60" y1="413.40" x2="472.40" y2="413.40" stroke="#111" stroke-width="1.3"/>
<circle cx="463.80" cy="399.00" r="1.55" fill="none" stroke="#c0304a" stroke-width="0.95"/>
<circle cx="462.00" cy="410.60" r="1.55" fill="none" stroke="#c0304a" stroke-width="0.95"/>
<circle cx="465.50" cy="410.60" r="1.55" fill="none" stroke="#c0304a" stroke-width="0.95"/>
<circle cx="463.80" cy="413.50" r="1.55" fill="none" stroke="#c0304a" stroke-width="0.95"/>
<circle cx="461.50" cy="415.50" r="1.55" fill="none" stroke="#c0304a" stroke-width="0.95"/>
<circle cx="466.00" cy="415.50" r="1.55" fill="none" stroke="#c0304a" stroke-width="0.95"/>
<circle cx="463.80" cy="424.70" r="1.55" fill="none" stroke="#c0304a" stroke-width="0.95"/>
<circle cx="463.80" cy="428.60" r="1.55" fill="none" stroke="#c0304a" stroke-width="0.95"/>
<line x1="483.55" y1="411.60" x2="483.55" y2="417.80" stroke="#111" stroke-width="1.0"/>
<line x1="483.55" y1="435.30" x2="483.55" y2="443.00" stroke="#111" stroke-width="1.0"/>
<line x1="479.50" y1="411.60" x2="487.60" y2="411.60" stroke="#111" stroke-width="1.0"/>
<line x1="479.50" y1="443.00" x2="487.60" y2="443.00" stroke="#111" stroke-width="1.0"/>
<rect x="475.10" y="417.80" width="16.80" height="17.50" fill="none" stroke="#1a1a1a" stroke-width="1.1"/>
<line x1="475.10" y1="424.50" x2="491.90" y2="424.50" stroke="#111" stroke-width="1.3"/>
<circle cx="483.50" cy="411.60" r="1.55" fill="none" stroke="#4a69a8" stroke-width="0.95"/>
<circle cx="481.50" cy="418.00" r="1.55" fill="none" stroke="#4a69a8" stroke-width="0.95"/>
<circle cx="485.50" cy="418.00" r="1.55" fill="none" stroke="#4a69a8" stroke-width="0.95"/>
<circle cx="483.50" cy="421.00" r="1.55" fill="none" stroke="#4a69a8" stroke-width="0.95"/>
<circle cx="483.50" cy="429.00" r="1.55" fill="none" stroke="#4a69a8" stroke-width="0.95"/>
<circle cx="481.50" cy="435.00" r="1.55" fill="none" stroke="#4a69a8" stroke-width="0.95"/>
<circle cx="485.50" cy="435.00" r="1.55" fill="none" stroke="#4a69a8" stroke-width="0.95"/>
<circle cx="483.50" cy="443.00" r="1.55" fill="none" stroke="#4a69a8" stroke-width="0.95"/>
<line x1="463.60" y1="450.40" x2="463.60" y2="452.70" stroke="#111" stroke-width="0.9"/>
<line x1="483.60" y1="450.40" x2="483.60" y2="452.70" stroke="#111" stroke-width="0.9"/>
<text x="463.60" y="461.80" font-size="5.6" text-anchor="middle" stroke="#111" stroke-width="0.15">B6</text>
<text x="484.50" y="461.80" font-size="5.6" text-anchor="middle" font-style="italic" stroke="#111" stroke-width="0.15" textLength="22.20" lengthAdjust="spacingAndGlyphs">Nbeal2-/-</text>
<line x1="463.60" y1="385.80" x2="483.60" y2="385.80" stroke="#111" stroke-width="0.9"/>
<line x1="463.60" y1="384.80" x2="463.60" y2="386.80" stroke="#111" stroke-width="0.9"/>
<line x1="483.60" y1="384.80" x2="483.60" y2="386.80" stroke="#111" stroke-width="0.9"/>
<text x="473.60" y="383.25" font-size="4.9" text-anchor="middle" stroke="#111" stroke-width="0.08" textLength="19.40" lengthAdjust="spacingAndGlyphs">p=0.0281</text>
<text x="8.20" y="488.90" font-size="12" font-weight="bold" stroke="#111" stroke-width="0.35">I</text>
<text x="65.00" y="494.63" font-size="5.4" text-anchor="middle" stroke="#111" stroke-width="0.08" textLength="17.50" lengthAdjust="spacingAndGlyphs">Control</text>
<text x="64.70" y="502.03" font-size="5.4" text-anchor="middle" stroke="#111" stroke-width="0.08" textLength="43.40" lengthAdjust="spacingAndGlyphs">(Platelet sufficient)</text>
<text x="113.60" y="494.63" font-size="5.4" text-anchor="middle" font-style="italic" stroke="#111" stroke-width="0.08" textLength="22.60" lengthAdjust="spacingAndGlyphs">Nbeal2-/-</text>
<text x="113.50" y="502.03" font-size="5.4" text-anchor="middle" stroke="#111" stroke-width="0.08" textLength="44.80" lengthAdjust="spacingAndGlyphs">(Platelet Defective)</text>
<text x="0" y="0" font-size="5.6" text-anchor="middle" stroke="#111" stroke-width="0.15" textLength="11.60" lengthAdjust="spacingAndGlyphs" transform="translate(43.30 523.80) rotate(-90)">Naive</text>
<text x="0" y="0" font-size="5.6" text-anchor="middle" stroke="#111" stroke-width="0.15" textLength="30.60" lengthAdjust="spacingAndGlyphs" transform="translate(43.30 558.70) rotate(-90)"><tspan font-style="italic">PbA</tspan>-infected</text>
<line x1="109.40" y1="603.05" x2="120.70" y2="603.05" stroke="#c0304a" stroke-width="1.0"/>
<line x1="120.70" y1="598.20" x2="120.70" y2="607.80" stroke="#c0304a" stroke-width="1.0"/>
<rect x="36.30" y="595.30" width="73.10" height="15.50" fill="#a00028"/>
<line x1="73.00" y1="628.40" x2="84.50" y2="628.40" stroke="#4a69a8" stroke-width="1.0"/>
<line x1="84.50" y1="624.50" x2="84.50" y2="632.50" stroke="#4a69a8" stroke-width="1.0"/>
<rect x="36.30" y="621.05" width="36.15" height="14.70" fill="#fff" stroke="#4a69a8" stroke-width="1.1"/>
<line x1="36.30" y1="589.30" x2="36.30" y2="640.50" stroke="#111" stroke-width="1.3"/>
<line x1="36.30" y1="640.50" x2="143.70" y2="640.50" stroke="#111" stroke-width="1.3"/>
<line x1="36.30" y1="640.50" x2="36.30" y2="642.50" stroke="#111" stroke-width="0.9"/>
<text x="36.30" y="651.93" font-size="5.4" text-anchor="middle" stroke="#111" stroke-width="0.08">0</text>
<line x1="71.20" y1="640.50" x2="71.20" y2="642.50" stroke="#111" stroke-width="0.9"/>
<text x="71.20" y="651.93" font-size="5.4" text-anchor="middle" stroke="#111" stroke-width="0.08">2</text>
<line x1="105.80" y1="640.50" x2="105.80" y2="642.50" stroke="#111" stroke-width="0.9"/>
<text x="105.80" y="651.93" font-size="5.4" text-anchor="middle" stroke="#111" stroke-width="0.08">4</text>
<line x1="140.50" y1="640.50" x2="140.50" y2="642.50" stroke="#111" stroke-width="0.9"/>
<text x="140.50" y="651.93" font-size="5.4" text-anchor="middle" stroke="#111" stroke-width="0.08">6</text>
<text x="61.10" y="585.40" font-size="7.3" stroke="#111" stroke-width="0.15" textLength="58.10" lengthAdjust="spacingAndGlyphs">Lung Permeability</text>
<text x="28.30" y="605.45" font-size="6.0" text-anchor="end" stroke="#111" stroke-width="0.15" textLength="6.40" lengthAdjust="spacingAndGlyphs">B6</text>
<text x="28.90" y="630.35" font-size="6.0" text-anchor="end" font-style="italic" stroke="#111" stroke-width="0.15" textLength="21.40" lengthAdjust="spacingAndGlyphs">Nbeal2-/-</text>
<line x1="127.00" y1="602.40" x2="127.00" y2="628.20" stroke="#111" stroke-width="1.2"/>
<line x1="125.80" y1="602.40" x2="128.20" y2="602.40" stroke="#111" stroke-width="0.8"/>
<line x1="125.80" y1="628.20" x2="128.20" y2="628.20" stroke="#111" stroke-width="0.8"/>
<text x="128.30" y="617.48" font-size="4.7" stroke="#111" stroke-width="0.08" textLength="19.40" lengthAdjust="spacingAndGlyphs">p=0.0435</text>
<text x="70.00" y="663.30" font-size="7.0" stroke="#111" stroke-width="0.3" textLength="33.70" lengthAdjust="spacingAndGlyphs">Normalized OD</text>
<text x="103.90" y="665.90" font-size="3.8" stroke="#111" stroke-width="0.08" textLength="5.80" lengthAdjust="spacingAndGlyphs">620</text>
<text x="192.70" y="489.20" font-size="12" font-weight="bold" stroke="#111" stroke-width="0.35">J</text>
<text x="248.20" y="494.23" font-size="5.4" text-anchor="middle" stroke="#111" stroke-width="0.08" textLength="17.50" lengthAdjust="spacingAndGlyphs">Control</text>
<text x="248.10" y="501.43" font-size="5.4" text-anchor="middle" stroke="#111" stroke-width="0.08" textLength="43.40" lengthAdjust="spacingAndGlyphs">(Platelet sufficient)</text>
<text x="296.60" y="494.23" font-size="5.4" text-anchor="middle" font-style="italic" stroke="#111" stroke-width="0.08" textLength="18.00" lengthAdjust="spacingAndGlyphs">Nbeal2-/-</text>
<text x="298.30" y="501.43" font-size="5.4" text-anchor="middle" stroke="#111" stroke-width="0.08" textLength="44.80" lengthAdjust="spacingAndGlyphs">(Platelet Defective)</text>
<text x="0" y="0" font-size="5.6" text-anchor="middle" stroke="#111" stroke-width="0.15" textLength="12.50" lengthAdjust="spacingAndGlyphs" transform="translate(230.70 523.50) rotate(-90)">Naive</text>
<text x="0" y="0" font-size="5.6" text-anchor="middle" stroke="#111" stroke-width="0.15" textLength="30.70" lengthAdjust="spacingAndGlyphs" transform="translate(230.70 558.70) rotate(-90)"><tspan font-style="italic">PbA</tspan> infected</text>
<line x1="279.80" y1="604.10" x2="306.60" y2="604.10" stroke="#c0304a" stroke-width="1.0"/>
<line x1="306.60" y1="600.30" x2="306.60" y2="609.30" stroke="#c0304a" stroke-width="1.0"/>
<rect x="221.70" y="595.90" width="58.10" height="16.40" fill="#a00028"/>
<line x1="237.80" y1="629.00" x2="241.60" y2="629.00" stroke="#4a69a8" stroke-width="1.0"/>
<line x1="241.60" y1="625.00" x2="241.60" y2="633.10" stroke="#4a69a8" stroke-width="1.0"/>
<rect x="221.70" y="621.15" width="15.55" height="15.70" fill="#fff" stroke="#4a69a8" stroke-width="1.1"/>
<line x1="221.70" y1="591.40" x2="221.70" y2="641.50" stroke="#111" stroke-width="1.3"/>
<line x1="221.70" y1="641.50" x2="329.00" y2="641.50" stroke="#111" stroke-width="1.3"/>
<line x1="221.70" y1="641.50" x2="221.70" y2="643.50" stroke="#111" stroke-width="0.9"/>
<text x="221.70" y="652.93" font-size="5.4" text-anchor="middle" stroke="#111" stroke-width="0.08">0</text>
<line x1="256.50" y1="641.50" x2="256.50" y2="643.50" stroke="#111" stroke-width="0.9"/>
<text x="256.50" y="652.93" font-size="5.4" text-anchor="middle" stroke="#111" stroke-width="0.08">1</text>
<line x1="291.70" y1="641.50" x2="291.70" y2="643.50" stroke="#111" stroke-width="0.9"/>
<text x="291.70" y="652.93" font-size="5.4" text-anchor="middle" stroke="#111" stroke-width="0.08">2</text>
<line x1="326.60" y1="641.50" x2="326.60" y2="643.50" stroke="#111" stroke-width="0.9"/>
<text x="326.60" y="652.93" font-size="5.4" text-anchor="middle" stroke="#111" stroke-width="0.08">3</text>
<text x="246.10" y="586.90" font-size="7.3" stroke="#111" stroke-width="0.15" textLength="59.60" lengthAdjust="spacingAndGlyphs">Brain Permeability</text>
<text x="214.80" y="606.05" font-size="6.0" text-anchor="end" stroke="#111" stroke-width="0.15" textLength="6.40" lengthAdjust="spacingAndGlyphs">B6</text>
<text x="215.70" y="631.65" font-size="6.0" text-anchor="end" font-style="italic" stroke="#111" stroke-width="0.15" textLength="22.40" lengthAdjust="spacingAndGlyphs">Nbeal2-/-</text>
<line x1="312.60" y1="603.90" x2="312.60" y2="629.50" stroke="#111" stroke-width="1.2"/>
<line x1="311.40" y1="603.90" x2="313.80" y2="603.90" stroke="#111" stroke-width="0.8"/>
<line x1="311.40" y1="629.50" x2="313.80" y2="629.50" stroke="#111" stroke-width="0.8"/>
<text x="313.80" y="618.35" font-size="4.6" stroke="#111" stroke-width="0.08" textLength="20.20" lengthAdjust="spacingAndGlyphs">p=0.0252</text>
<text x="255.60" y="664.00" font-size="7.0" stroke="#111" stroke-width="0.3" textLength="33.70" lengthAdjust="spacingAndGlyphs">Normalized OD</text>
<text x="289.50" y="666.60" font-size="3.8" stroke="#111" stroke-width="0.08" textLength="5.80" lengthAdjust="spacingAndGlyphs">620</text>
<text x="387.80" y="489.90" font-size="12" font-weight="bold" stroke="#111" stroke-width="0.35">K</text>
<rect x="444.00" y="531.25" width="28.50" height="77.50" fill="#e4e4e4"/>
<line x1="433.75" y1="521.75" x2="443.75" y2="521.75" stroke="#c0304a" stroke-width="1.4"/>
<text x="447.50" y="523.40" font-size="4.6" stroke="#111" stroke-width="0.08" textLength="5.00" lengthAdjust="spacingAndGlyphs">B6</text>
<line x1="460.50" y1="521.75" x2="471.25" y2="521.75" stroke="#2f4f8c" stroke-width="1.0"/>
<text x="474.50" y="523.40" font-size="4.6" font-style="italic" stroke="#111" stroke-width="0.08" textLength="18.50" lengthAdjust="spacingAndGlyphs">Nbeal2-/-</text>
<line x1="415.50" y1="528.00" x2="415.50" y2="608.75" stroke="#111" stroke-width="1.3"/>
<line x1="413.00" y1="608.75" x2="415.50" y2="608.75" stroke="#111" stroke-width="0.9"/>
<text x="410.30" y="610.75" font-size="5.6" text-anchor="end" stroke="#111" stroke-width="0.15">0</text>
<line x1="413.00" y1="593.25" x2="415.50" y2="593.25" stroke="#111" stroke-width="0.9"/>
<text x="410.30" y="595.25" font-size="5.6" text-anchor="end" stroke="#111" stroke-width="0.15">20</text>
<line x1="413.00" y1="577.75" x2="415.50" y2="577.75" stroke="#111" stroke-width="0.9"/>
<text x="410.30" y="579.75" font-size="5.6" text-anchor="end" stroke="#111" stroke-width="0.15">40</text>
<line x1="413.00" y1="562.25" x2="415.50" y2="562.25" stroke="#111" stroke-width="0.9"/>
<text x="410.30" y="564.25" font-size="5.6" text-anchor="end" stroke="#111" stroke-width="0.15">60</text>
<line x1="413.00" y1="546.75" x2="415.50" y2="546.75" stroke="#111" stroke-width="0.9"/>
<text x="410.30" y="548.75" font-size="5.6" text-anchor="end" stroke="#111" stroke-width="0.15">80</text>
<line x1="413.00" y1="531.25" x2="415.50" y2="531.25" stroke="#111" stroke-width="0.9"/>
<text x="410.30" y="533.25" font-size="5.6" text-anchor="end" stroke="#111" stroke-width="0.15">100</text>
<line x1="415.50" y1="608.75" x2="509.30" y2="608.75" stroke="#111" stroke-width="1.3"/>
<line x1="415.50" y1="608.75" x2="415.50" y2="611.00" stroke="#111" stroke-width="0.9"/>
<text x="415.50" y="620.30" font-size="5.6" text-anchor="middle" stroke="#111" stroke-width="0.15">0</text>
<line x1="426.90" y1="608.75" x2="426.90" y2="611.00" stroke="#111" stroke-width="0.9"/>
<text x="426.90" y="620.30" font-size="5.6" text-anchor="middle" stroke="#111" stroke-width="0.15">2</text>
<line x1="438.30" y1="608.75" x2="438.30" y2="611.00" stroke="#111" stroke-width="0.9"/>
<text x="438.30" y="620.30" font-size="5.6" text-anchor="middle" stroke="#111" stroke-width="0.15">4</text>
<line x1="449.70" y1="608.75" x2="449.70" y2="611.00" stroke="#111" stroke-width="0.9"/>
<text x="449.70" y="620.30" font-size="5.6" text-anchor="middle" stroke="#111" stroke-width="0.15">6</text>
<line x1="461.10" y1="608.75" x2="461.10" y2="611.00" stroke="#111" stroke-width="0.9"/>
<text x="461.10" y="620.30" font-size="5.6" text-anchor="middle" stroke="#111" stroke-width="0.15">8</text>
<line x1="472.50" y1="608.75" x2="472.50" y2="611.00" stroke="#111" stroke-width="0.9"/>
<text x="472.50" y="620.30" font-size="5.6" text-anchor="middle" stroke="#111" stroke-width="0.15">10</text>
<line x1="483.90" y1="608.75" x2="483.90" y2="611.00" stroke="#111" stroke-width="0.9"/>
<text x="483.90" y="620.30" font-size="5.6" text-anchor="middle" stroke="#111" stroke-width="0.15">12</text>
<line x1="495.30" y1="608.75" x2="495.30" y2="611.00" stroke="#111" stroke-width="0.9"/>
<text x="495.30" y="620.30" font-size="5.6" text-anchor="middle" stroke="#111" stroke-width="0.15">14</text>
<line x1="506.70" y1="608.75" x2="506.70" y2="611.00" stroke="#111" stroke-width="0.9"/>
<text x="506.70" y="620.30" font-size="5.6" text-anchor="middle" stroke="#111" stroke-width="0.15">16</text>
<text x="462.90" y="630.72" font-size="7.6" text-anchor="middle" stroke="#111" stroke-width="0.3" textLength="45.80" lengthAdjust="spacingAndGlyphs">Days post-infection</text>
<text x="0" y="0" font-size="7.0" text-anchor="middle" stroke="#111" stroke-width="0.3" textLength="30.00" lengthAdjust="spacingAndGlyphs" transform="translate(393.81 568.80) rotate(-90)">Survival (%)</text>
<line x1="455.40" y1="535.75" x2="455.40" y2="540.75" stroke="#2f4f8c" stroke-width="1.0"/>
<line x1="455.40" y1="540.75" x2="507.00" y2="540.75" stroke="#2f4f8c" stroke-width="1.0"/>
<circle cx="507.00" cy="540.75" r="1.3" fill="#2f4f8c"/>
<polyline points="415.50,531.25 449.50,531.25 449.50,535.75 455.00,535.75 455.00,562.00 460.75,562.00 460.75,588.00 466.75,588.00 466.75,598.25 472.50,598.25 472.50,608.75" stroke="#c0304a" stroke-width="1.4" fill="none" stroke-linejoin="round"/>
<text x="493.10" y="537.40" font-size="4.6" text-anchor="middle" stroke="#111" stroke-width="0.08" textLength="18.70" lengthAdjust="spacingAndGlyphs">p&lt;0.0001</text>
<defs><filter id="hb" filterUnits="userSpaceOnUse" x="0" y="0" width="520" height="675"><feGaussianBlur stdDeviation="0.9"/></filter><filter id="hb2" filterUnits="userSpaceOnUse" x="0" y="0" width="520" height="675"><feGaussianBlur stdDeviation="0.5"/></filter><filter id="nz" x="0" y="0" width="100%" height="100%"><feTurbulence type="fractalNoise" baseFrequency="1.3" numOctaves="1" seed="4" result="t"/><feColorMatrix in="t" type="matrix" values="0 0 0 0 0.45  0 0 0 0 0.45  0 0 0 0 0.45  0 0 0 0.9 -0.25"/></filter><clipPath id="cF1"><rect x="168.8" y="321.8" width="32.8" height="36.3"/></clipPath><clipPath id="cF2"><rect x="204.8" y="321.8" width="32.9" height="36.3"/></clipPath><clipPath id="cG1"><rect x="301.7" y="322.9" width="33.9" height="35.7"/></clipPath><clipPath id="cG2"><rect x="339.1" y="322.9" width="34.9" height="35.7"/></clipPath><clipPath id="cH1"><rect x="438.7" y="317.7" width="34.2" height="40.2"/></clipPath><clipPath id="cH2"><rect x="476.4" y="317.7" width="34.6" height="40.2"/></clipPath></defs>
<rect x="168.8" y="321.8" width="32.8" height="36.3" filter="url(#nz)" opacity="0.35"/>
<rect x="204.8" y="321.8" width="32.9" height="36.3" filter="url(#nz)" opacity="0.35"/>
<rect x="301.7" y="322.9" width="33.9" height="35.7" filter="url(#nz)" opacity="0.35"/>
<rect x="339.1" y="322.9" width="34.9" height="35.7" filter="url(#nz)" opacity="0.35"/>
<rect x="438.7" y="317.7" width="34.2" height="40.2" filter="url(#nz)" opacity="0.35"/>
<rect x="476.4" y="317.7" width="34.6" height="40.2" filter="url(#nz)" opacity="0.35"/>
<g clip-path="url(#cF1)">
<g filter="url(#hb2)">
<ellipse cx="181.5" cy="341" rx="14" ry="4.8" transform="rotate(-58 181.5 341)" fill="#222"/>
<ellipse cx="182.5" cy="340" rx="9" ry="2.3" transform="rotate(-58 182.5 340)" fill="#9a9a9a"/>
<ellipse cx="186" cy="333" rx="2.6" ry="1.4" transform="rotate(-58 186 333)" fill="#e0e0e0"/>
<ellipse cx="180" cy="345" rx="2.2" ry="1.2" transform="rotate(-58 180 345)" fill="#d0d0d0"/>
<path d="M191,323.5 Q197,327 200,333" stroke="#d8d8d8" stroke-width="2.2" fill="none"/>
<circle cx="195.5" cy="326.5" r="1.6" fill="#fff"/>
</g></g>
<g clip-path="url(#cF2)"><g filter="url(#hb2)">
<path d="M211,334 Q216,330 218,333" stroke="#222" stroke-width="1.5" fill="none"/>
<line x1="214.50" y1="346.50" x2="229.00" y2="332.50" stroke="#2a22f0" stroke-width="18.0" stroke-linecap="round"/>
<line x1="214.50" y1="346.50" x2="229.00" y2="332.50" stroke="#00b8ff" stroke-width="15.4" stroke-linecap="round"/>
<line x1="214.50" y1="346.50" x2="229.00" y2="332.50" stroke="#2ee05a" stroke-width="13.4" stroke-linecap="round"/>
<line x1="214.50" y1="346.50" x2="229.00" y2="332.50" stroke="#c8f000" stroke-width="9.4" stroke-linecap="round"/>
<line x1="214.50" y1="346.50" x2="229.00" y2="332.50" stroke="#ffb000" stroke-width="4.6" stroke-linecap="round"/>
<circle cx="217.6" cy="344" r="2.5" fill="#ff2a00"/><circle cx="225.6" cy="336" r="2.2" fill="#ff2a00"/>
<circle cx="217.6" cy="344.3" r="1.3" fill="#d00000"/><circle cx="225.8" cy="336" r="1.1" fill="#d00000"/>
</g></g>
<g clip-path="url(#cG1)"><g filter="url(#hb2)">
<circle cx="317.2" cy="338.3" r="9.6" fill="#b8b8b8"/>
<circle cx="315.5" cy="336.5" r="6" fill="#d8d8d8"/>
<path d="M311,335 Q316,330 322,334 M313,342 Q318,339 322,343" stroke="#777" stroke-width="1.2" fill="none"/>
<circle cx="313.5" cy="334" r="2" fill="#f4f4f4"/><circle cx="321" cy="344" r="1.6" fill="#eee"/>
<circle cx="333" cy="349" r="1.1" fill="#fff"/><circle cx="322" cy="356" r="0.9" fill="#ddd"/>
<path d="M304,330 Q307,327 310,328" stroke="#222" stroke-width="1" fill="none"/>
</g></g>
<g clip-path="url(#cG2)"><g filter="url(#hb2)">
<path d="M0,-13 C8,-13 13.5,-6 13.5,2 C13.5,9 9,13.5 4,13.5 C2,13.5 1,11 0,10 C-1,11 -2.5,13.5 -5,13.5 C-10,13.5 -13.5,9 -13.5,2 C-13.5,-6 -8,-13 0,-13 Z" transform="translate(356.8 340.8) scale(1.0)" fill="#2a22f0"/>
<path d="M0,-13 C8,-13 13.5,-6 13.5,2 C13.5,9 9,13.5 4,13.5 C2,13.5 1,11 0,10 C-1,11 -2.5,13.5 -5,13.5 C-10,13.5 -13.5,9 -13.5,2 C-13.5,-6 -8,-13 0,-13 Z" transform="translate(356.8 340.8) scale(0.85)" fill="#00b8ff"/>
<path d="M0,-13 C8,-13 13.5,-6 13.5,2 C13.5,9 9,13.5 4,13.5 C2,13.5 1,11 0,10 C-1,11 -2.5,13.5 -5,13.5 C-10,13.5 -13.5,9 -13.5,2 C-13.5,-6 -8,-13 0,-13 Z" transform="translate(356.8 340.8) scale(0.79)" fill="#2ee05a"/>
<circle cx="361.5" cy="340" r="5.2" fill="#c8f000"/><circle cx="361.5" cy="340" r="3.6" fill="#ffb000"/>
<circle cx="361.5" cy="340.2" r="2.5" fill="#ff2a00"/><circle cx="361.6" cy="340.3" r="1.4" fill="#d00000"/>
</g></g>
<g clip-path="url(#cH1)"><g filter="url(#hb2)">
<ellipse cx="455.8" cy="337.6" rx="10.2" ry="11.8" fill="#a8a8a8"/>
<ellipse cx="455.3" cy="336.5" rx="7.5" ry="9" fill="#b8b8b8"/>
<circle cx="452.5" cy="332.5" r="1.0" fill="#f2f2f2"/>
<circle cx="458.5" cy="331.5" r="1.0" fill="#f2f2f2"/>
<circle cx="454" cy="338" r="1.0" fill="#f2f2f2"/>
<circle cx="459" cy="340" r="1.0" fill="#f2f2f2"/>
<circle cx="451.5" cy="343.5" r="1.0" fill="#f2f2f2"/>
<circle cx="456.5" cy="345.5" r="1.0" fill="#f2f2f2"/>
<circle cx="460.5" cy="336" r="1.0" fill="#f2f2f2"/>
<path d="M458,322 L462,326 M462,321 L466,327 M467,322 L469,328" stroke="#111" stroke-width="1" fill="none"/>
<circle cx="441" cy="320.5" r="1.1" fill="#eee"/><circle cx="442" cy="354" r="1" fill="#ddd"/><circle cx="470" cy="354" r="1" fill="#ddd"/>
</g></g>
<g clip-path="url(#cH2)"><g filter="url(#hb2)">
<path d="M0,-16.5 C8,-16.5 13.5,-12 13.5,-6 C13.5,-2 11,0 11,1 C11,2 13.5,4 13.5,8 C13.5,14 8,16.5 0,16.5 C-8,16.5 -13.5,14 -13.5,8 C-13.5,4 -11,2 -11,1 C-11,0 -13.5,-2 -13.5,-6 C-13.5,-12 -8,-16.5 0,-16.5 Z" transform="translate(493.1 338.6) scale(1.0)" fill="#2a22f0"/>
<path d="M0,-16.5 C8,-16.5 13.5,-12 13.5,-6 C13.5,-2 11,0 11,1 C11,2 13.5,4 13.5,8 C13.5,14 8,16.5 0,16.5 C-8,16.5 -13.5,14 -13.5,8 C-13.5,4 -11,2 -11,1 C-11,0 -13.5,-2 -13.5,-6 C-13.5,-12 -8,-16.5 0,-16.5 Z" transform="translate(493.1 338.6) scale(0.87)" fill="#00b8ff"/>
<path d="M0,-16.5 C8,-16.5 13.5,-12 13.5,-6 C13.5,-2 11,0 11,1 C11,2 13.5,4 13.5,8 C13.5,14 8,16.5 0,16.5 C-8,16.5 -13.5,14 -13.5,8 C-13.5,4 -11,2 -11,1 C-11,0 -13.5,-2 -13.5,-6 C-13.5,-12 -8,-16.5 0,-16.5 Z" transform="translate(493.1 338.6) scale(0.81)" fill="#2ee05a"/>
<ellipse cx="493.2" cy="331.5" rx="6" ry="4.6" fill="#c8f000"/><ellipse cx="493.2" cy="331.3" rx="4.3" ry="3.2" fill="#ffb000"/>
<ellipse cx="493.2" cy="331.2" rx="3.2" ry="2.3" fill="#ff2a00"/><circle cx="493.2" cy="331.1" r="1.2" fill="#d00000"/>
<ellipse cx="491.6" cy="345.2" rx="4" ry="3.4" fill="#c8f000"/><ellipse cx="491.6" cy="345.2" rx="2.3" ry="2" fill="#ffb000"/>
<circle cx="491.6" cy="345.3" r="1.1" fill="#ff2a00"/>
</g></g>
<rect x="168.80" y="321.80" width="32.80" height="36.30" fill="none" stroke="#0a0a0a" stroke-width="1.3"/>
<rect x="204.80" y="321.80" width="32.90" height="36.30" fill="none" stroke="#0a0a0a" stroke-width="1.3"/>
<rect x="301.70" y="322.90" width="33.90" height="35.70" fill="none" stroke="#0a0a0a" stroke-width="1.3"/>
<rect x="339.10" y="322.90" width="34.90" height="35.70" fill="none" stroke="#0a0a0a" stroke-width="1.3"/>
<rect x="438.70" y="317.70" width="34.20" height="40.20" fill="none" stroke="#0a0a0a" stroke-width="1.3"/>
<rect x="476.40" y="317.70" width="34.60" height="40.20" fill="none" stroke="#0a0a0a" stroke-width="1.3"/>
<defs><filter id="pb" filterUnits="userSpaceOnUse" x="0" y="0" width="520" height="675"><feGaussianBlur stdDeviation="0.7"/></filter><filter id="pb2" filterUnits="userSpaceOnUse" x="0" y="0" width="520" height="675"><feGaussianBlur stdDeviation="0.4"/></filter><linearGradient id="lg1" x1="0" y1="0" x2="1" y2="0"><stop offset="0" stop-color="#9a8a9c"/><stop offset="0.35" stop-color="#5e5066"/><stop offset="0.55" stop-color="#1c1a2c"/><stop offset="1" stop-color="#2a2638"/></linearGradient><linearGradient id="lg2" x1="0" y1="0" x2="1" y2="0"><stop offset="0" stop-color="#7a6474"/><stop offset="0.45" stop-color="#5e4c5c"/><stop offset="0.55" stop-color="#243044"/><stop offset="0.65" stop-color="#6e5a68"/><stop offset="1" stop-color="#7a6672"/></linearGradient><linearGradient id="lg3" x1="0" y1="0" x2="1" y2="1"><stop offset="0" stop-color="#3a4c78"/><stop offset="0.3" stop-color="#161c2c"/><stop offset="1" stop-color="#10141e"/></linearGradient><radialGradient id="lg4" cx="0.45" cy="0.45" r="0.6"><stop offset="0" stop-color="#5a6c90"/><stop offset="0.6" stop-color="#2c3c5c"/><stop offset="1" stop-color="#1c2438"/></radialGradient><radialGradient id="bp1" cx="0.5" cy="0.4" r="0.6"><stop offset="0" stop-color="#f7eeec"/><stop offset="0.7" stop-color="#ecdad6"/><stop offset="1" stop-color="#dcc0bc"/></radialGradient><radialGradient id="bb1" cx="0.5" cy="0.4" r="0.6"><stop offset="0" stop-color="#5478b8"/><stop offset="0.7" stop-color="#3a5ca2"/><stop offset="1" stop-color="#2c4a8c"/></radialGradient><radialGradient id="bb2" cx="0.5" cy="0.4" r="0.6"><stop offset="0" stop-color="#b4c2de"/><stop offset="0.7" stop-color="#8a9cc6"/><stop offset="1" stop-color="#7080b0"/></radialGradient></defs>
<g filter="url(#pb2)"><path d="M-16,1 C-16,-6 -11,-10 -5,-10.5 C-1,-11 2,-12.5 6,-12 C12,-11.5 16.5,-6 16.5,1 C16.5,7 14,11.5 9,12 C5,12.5 2,10 0,8.5 C-2,11 -5,12.5 -8,12 C-13,11.5 -16,7 -16,1 Z" transform="translate(64.0 522.2) scale(1.0 1.0)" fill="url(#lg1)"/><path d="M52,516 Q55,522 53,528 M57,514 Q59,520 56,527" stroke="#d8d0d8" stroke-width="1.2" fill="none" opacity="0.8"/><ellipse cx="72" cy="520" rx="3" ry="2" fill="#7a7088"/><ellipse cx="58" cy="530" rx="2.5" ry="1.5" fill="#1c1a2c"/></g>
<g filter="url(#pb2)"><path d="M-16,1 C-16,-6 -11,-10 -5,-10.5 C-1,-11 2,-12.5 6,-12 C12,-11.5 16.5,-6 16.5,1 C16.5,7 14,11.5 9,12 C5,12.5 2,10 0,8.5 C-2,11 -5,12.5 -8,12 C-13,11.5 -16,7 -16,1 Z" transform="translate(114.2 522.2) scale(1.06 1.12)" fill="url(#lg2)"/><path d="M111,512 L114,533" stroke="#1e2a3e" stroke-width="3" fill="none"/><circle cx="101" cy="518" r="1" fill="#cfd8ea"/><circle cx="122" cy="520" r="1.2" fill="#c8b8c4"/><circle cx="118" cy="528" r="1" fill="#c0b0bc"/><circle cx="104" cy="527" r="1.2" fill="#2a2030"/></g>
<g filter="url(#pb2)"><path d="M-16,1 C-16,-6 -11,-10 -5,-10.5 C-1,-11 2,-12.5 6,-12 C12,-11.5 16.5,-6 16.5,1 C16.5,7 14,11.5 9,12 C5,12.5 2,10 0,8.5 C-2,11 -5,12.5 -8,12 C-13,11.5 -16,7 -16,1 Z" transform="translate(67.3 558.3) scale(1.13 1.22)" fill="url(#lg3)"/><path d="M55,552 Q62,548 72,551 M56,557 Q64,553 78,557 M60,562 Q66,557 68,566 M72,547 Q78,550 82,556" stroke="#c8ccd4" stroke-width="0.9" fill="none" opacity="0.85"/><path d="M63,556 L67,566" stroke="#e8ecf0" stroke-width="1.4"/></g>
<g filter="url(#pb2)"><path d="M-16,1 C-16,-6 -11,-10 -5,-10.5 C-1,-11 2,-12.5 6,-12 C12,-11.5 16.5,-6 16.5,1 C16.5,7 14,11.5 9,12 C5,12.5 2,10 0,8.5 C-2,11 -5,12.5 -8,12 C-13,11.5 -16,7 -16,1 Z" transform="translate(116.6 559.5) scale(0.98 1.3)" fill="url(#lg4)"/><path d="M114,548 L112,570" stroke="#141a28" stroke-width="1.4" fill="none"/><circle cx="106" cy="553" r="1.2" fill="#d8e0ee"/><circle cx="104" cy="562" r="1.4" fill="#c8d2e4"/><circle cx="121" cy="551" r="1" fill="#c8d2e4"/><circle cx="126" cy="560" r="1.1" fill="#d0d8e8"/><circle cx="118" cy="567" r="1" fill="#c0cadc"/><circle cx="109" cy="569" r="1.3" fill="#d8e0ee"/></g>
<g filter="url(#pb2)">
<ellipse cx="249.3" cy="516.4" rx="11.4" ry="10.8" fill="url(#bp1)"/>
<ellipse cx="249.3" cy="530.1" rx="8.8" ry="7.0" fill="url(#bp1)"/>
<path d="M249.3,506.6 L249.3,524.6 M240.3,525.6 Q249.3,521.6 258.3,525.6 M244.3,528.6 L249.3,525.6 L254.3,528.6 M246.3,532.6 Q249.3,530.6 252.3,532.6" stroke="#b08c8c" stroke-width="0.8" fill="none"/>
</g>
<g filter="url(#pb2)">
<ellipse cx="298.4" cy="516.8" rx="11.4" ry="10.8" fill="url(#bp1)"/>
<ellipse cx="298.4" cy="530.5" rx="8.8" ry="7.0" fill="url(#bp1)"/>
<path d="M298.4,507.0 L298.4,525.0 M289.4,526.0 Q298.4,522.0 307.4,526.0 M293.4,529.0 L298.4,526.0 L303.4,529.0 M295.4,533.0 Q298.4,531.0 301.4,533.0" stroke="#b08c8c" stroke-width="0.8" fill="none"/>
</g>
<g filter="url(#pb2)">
<ellipse cx="248.7" cy="553.6999999999999" rx="11.4" ry="10.8" fill="url(#bb1)"/>
<ellipse cx="248.7" cy="567.4" rx="8.8" ry="7.0" fill="url(#bb1)"/>
<path d="M248.7,543.9 L248.7,561.9 M239.7,562.9 Q248.7,558.9 257.7,562.9 M243.7,565.9 L248.7,562.9 L253.7,565.9 M245.7,569.9 Q248.7,567.9 251.7,569.9" stroke="#1a2a5a" stroke-width="0.8" fill="none"/>
</g>
<g filter="url(#pb2)">
<ellipse cx="298.4" cy="553.4" rx="11.4" ry="10.8" fill="url(#bb2)"/>
<ellipse cx="298.4" cy="567.1" rx="8.8" ry="7.0" fill="#9a9cc0"/>
<path d="M298.4,543.6 L298.4,561.6 M289.4,562.6 Q298.4,558.6 307.4,562.6 M293.4,565.6 L298.4,562.6 L303.4,565.6 M295.4,569.6 Q298.4,567.6 301.4,569.6" stroke="#3a3050" stroke-width="0.8" fill="none"/>
</g>
<rect x="296.40" y="56.20" width="26.00" height="25.90" fill="#fff" stroke="#b0b0b0" stroke-width="0.6"/>
<g filter="url(#bl6)">
<ellipse cx="302.4" cy="69.2" rx="3.0" ry="6.6" transform="rotate(-8 302.4 69.2)" fill="#f0c4c4"/>
<ellipse cx="302.2" cy="69.2" rx="1.8" ry="4.4" transform="rotate(-8 302.2 69.2)" fill="#e49a9a"/>
</g>
<circle cx="307.50" cy="59.50" r="0.35" fill="#e0a0a0"/>
<circle cx="309.00" cy="60.50" r="0.35" fill="#e0a0a0"/>
<circle cx="310.50" cy="59.00" r="0.35" fill="#e0a0a0"/>
<circle cx="306.50" cy="61.00" r="0.35" fill="#e0a0a0"/>
<circle cx="308.50" cy="58.50" r="0.35" fill="#e0a0a0"/>
<path d="M305.1,56.6 L316.8,56.6 L316.8,68.7 L309.4,68.7 L303.2,60.3 Z" stroke="#333" stroke-width="0.9" fill="none"/>
<text x="294.60" y="59.47" font-size="3.0" text-anchor="end" fill="#333" stroke="#333" stroke-width="0.08">10<tspan font-size="2.2" dy="-1.1">5</tspan></text>
<text x="294.60" y="65.57" font-size="3.0" text-anchor="end" fill="#333" stroke="#333" stroke-width="0.08">10<tspan font-size="2.2" dy="-1.1">4</tspan></text>
<text x="294.60" y="72.17" font-size="3.0" text-anchor="end" fill="#333" stroke="#333" stroke-width="0.08">10<tspan font-size="2.2" dy="-1.1">3</tspan></text>
<text x="294.60" y="76.97" font-size="3.0" text-anchor="end" fill="#333" stroke="#333" stroke-width="0.08">0</text>
<text x="294.60" y="81.27" font-size="3.0" text-anchor="end" fill="#333" stroke="#333" stroke-width="0.08">-10<tspan font-size="2.2" dy="-1.1">3</tspan></text>
<text x="298.30" y="86.07" font-size="3.0" text-anchor="middle" fill="#333" stroke="#333" stroke-width="0.08">-10<tspan font-size="2.2" dy="-1.1">3</tspan></text>
<text x="302.70" y="86.07" font-size="3.0" text-anchor="middle" fill="#333" stroke="#333" stroke-width="0.08">0</text>
<text x="306.40" y="86.07" font-size="3.0" text-anchor="middle" fill="#333" stroke="#333" stroke-width="0.08">10<tspan font-size="2.2" dy="-1.1">3</tspan></text>
<text x="314.70" y="86.07" font-size="3.0" text-anchor="middle" fill="#333" stroke="#333" stroke-width="0.08">10<tspan font-size="2.2" dy="-1.1">4</tspan></text>
<text x="320.00" y="86.07" font-size="3.0" text-anchor="middle" fill="#333" stroke="#333" stroke-width="0.08">10<tspan font-size="2.2" dy="-1.1">5</tspan></text>
<text x="309.60" y="54.38" font-size="4.4" text-anchor="middle" stroke="#111" stroke-width="0.08" textLength="33.60" lengthAdjust="spacingAndGlyphs">Gated on CD41+</text>
<text x="0" y="0" font-size="3.6" text-anchor="middle" stroke="#111" stroke-width="0.15" textLength="4.80" lengthAdjust="spacingAndGlyphs" transform="translate(286.89 70.10) rotate(-90)">SSC</text>
<text x="309.30" y="90.86" font-size="3.8" text-anchor="middle" font-style="italic" stroke="#111" stroke-width="0.15">PbA</text>
<circle cx="296.40" cy="75.90" r="0.5" fill="#111"/>
<circle cx="302.70" cy="82.10" r="0.5" fill="#111"/>
<rect x="0.5" y="0.5" width="518.8" height="673.8" fill="none" stroke="#000" stroke-width="1.1"/>
</svg>
</body></html>
